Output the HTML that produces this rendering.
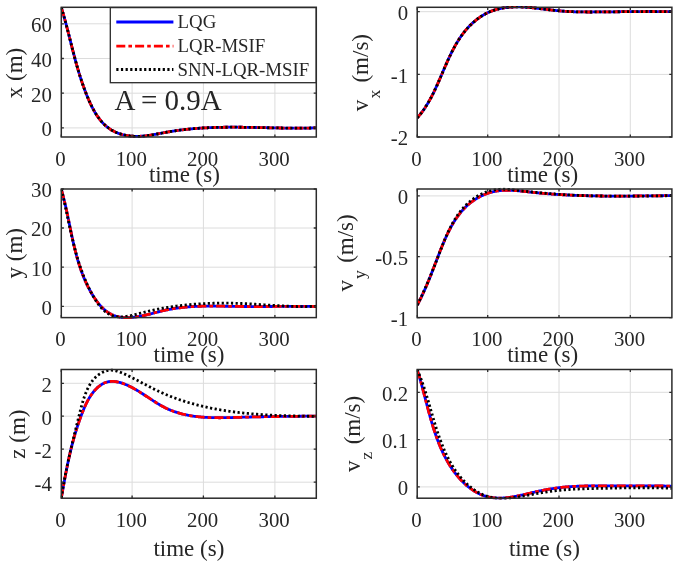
<!DOCTYPE html>
<html><head><meta charset="utf-8"><title>figure</title>
<style>
html,body{margin:0;padding:0;background:#fff;}
body{width:685px;height:564px;overflow:hidden;}
svg{display:block;filter:blur(0.5px);}
text{font-family:"Liberation Serif",serif;fill:#262626;}
</style></head><body>
<svg width="685" height="564" viewBox="0 0 685 564">
<rect x="0" y="0" width="685" height="564" fill="#fff"/>
<clipPath id="cp00"><rect x="61.10" y="5.90" width="255.40" height="132.50"/></clipPath>
<path d="M132.10,7.30V137.00 M203.40,7.30V137.00 M274.90,7.30V137.00 M61.30,127.90H316.30 M61.30,93.20H316.30 M61.30,58.50H316.30 M61.30,23.80H316.30" stroke="#dcdcdc" stroke-width="1" fill="none"/>
<clipPath id="cp01"><rect x="417.00" y="5.90" width="255.10" height="132.50"/></clipPath>
<path d="M487.70,7.30V137.00 M559.00,7.30V137.00 M630.30,7.30V137.00 M417.20,11.70H671.90 M417.20,74.40H671.90" stroke="#dcdcdc" stroke-width="1" fill="none"/>
<clipPath id="cp10"><rect x="61.10" y="187.60" width="255.40" height="131.40"/></clipPath>
<path d="M132.10,189.00V317.60 M203.40,189.00V317.60 M274.90,189.00V317.60 M61.30,306.40H316.30 M61.30,267.20H316.30 M61.30,228.00H316.30" stroke="#dcdcdc" stroke-width="1" fill="none"/>
<clipPath id="cp11"><rect x="417.00" y="187.60" width="255.10" height="131.40"/></clipPath>
<path d="M487.70,189.00V317.60 M559.00,189.00V317.60 M630.30,189.00V317.60 M417.20,195.90H671.90 M417.20,256.70H671.90" stroke="#dcdcdc" stroke-width="1" fill="none"/>
<clipPath id="cp20"><rect x="61.10" y="368.10" width="255.40" height="131.50"/></clipPath>
<path d="M132.10,369.50V498.20 M203.40,369.50V498.20 M274.90,369.50V498.20 M61.30,383.30H316.30 M61.30,416.20H316.30 M61.30,449.20H316.30 M61.30,482.20H316.30" stroke="#dcdcdc" stroke-width="1" fill="none"/>
<clipPath id="cp21"><rect x="417.00" y="368.10" width="255.10" height="131.50"/></clipPath>
<path d="M487.70,369.50V498.20 M559.00,369.50V498.20 M630.30,369.50V498.20 M417.20,392.30H671.90 M417.20,439.60H671.90 M417.20,486.90H671.90" stroke="#dcdcdc" stroke-width="1" fill="none"/>
<g clip-path="url(#cp00)" fill="none" stroke-width="2.80">
<path d="M61.29,7.40L61.55,8.24L61.81,9.07L62.06,9.91L62.31,10.74L62.56,11.58L62.80,12.41L63.05,13.24L63.29,14.08L63.53,14.91L63.76,15.74L64.00,16.57L64.23,17.40L64.46,18.23L64.69,19.06L64.92,19.89L65.15,20.71L65.38,21.54L65.60,22.37L65.82,23.19L66.04,24.02L66.26,24.85L66.48,25.67L66.70,26.50L66.92,27.32L67.13,28.14L67.35,28.97L67.56,29.79L67.77,30.61L67.98,31.44L68.19,32.26L68.40,33.08L68.61,33.90L68.82,34.72L69.03,35.54L69.24,36.37L69.45,37.19L69.65,38.01L69.86,38.83L70.07,39.65L70.27,40.47L70.48,41.28L70.69,42.10L70.89,42.92L71.10,43.74L71.31,44.56L71.51,45.38L71.72,46.20L71.93,47.02L72.14,47.83L72.35,48.65L72.55,49.47L72.76,50.29L72.97,51.11L73.19,51.93L73.40,52.74L73.61,53.56L73.82,54.38L74.04,55.20L74.25,56.01L74.47,56.83L74.68,57.65L74.90,58.47L75.12,59.29L75.34,60.11L75.57,60.92L75.79,61.74L76.02,62.56L76.24,63.38L76.47,64.20L76.70,65.02L76.93,65.84L77.17,66.66L77.40,67.48L77.64,68.30L77.88,69.12L78.12,69.94L78.36,70.76L78.61,71.58L78.85,72.40L79.10,73.22L79.36,74.04L79.61,74.86L79.87,75.69L80.13,76.51L80.39,77.33L80.65,78.15L80.92,78.98L81.19,79.80L81.46,80.63L81.74,81.45L82.02,82.28L82.30,83.10L82.58,83.93L82.87,84.75L83.16,85.58L83.45,86.41L83.75,87.24L84.05,88.07L84.36,88.89L84.66,89.72L84.97,90.55L85.29,91.38L85.61,92.21L85.93,93.05L86.25,93.88L86.58,94.71L86.92,95.54L87.25,96.38L87.59,97.21L87.94,98.04L88.29,98.87L88.65,99.70L89.01,100.52L89.37,101.35L89.74,102.17L90.11,102.99L90.49,103.80L90.88,104.61L91.27,105.42L91.67,106.22L92.07,107.02L92.48,107.82L92.89,108.61L93.31,109.39L93.74,110.17L94.17,110.94L94.61,111.70L95.05,112.46L95.51,113.21L95.96,113.95L96.43,114.69L96.90,115.41L97.38,116.13L97.87,116.84L98.37,117.54L98.87,118.23L99.38,118.91L99.90,119.58L100.43,120.24L100.96,120.89L101.50,121.53L102.05,122.15L102.61,122.77L103.18,123.37L103.76,123.96L104.34,124.54L104.94,125.10L105.54,125.65L106.15,126.18L106.78,126.71L107.41,127.21L108.05,127.70L108.70,128.18L109.36,128.64L110.03,129.09L110.70,129.53L111.39,129.95L112.09,130.35L112.79,130.74L113.50,131.12L114.22,131.48L114.94,131.83L115.67,132.16L116.41,132.48L117.16,132.79L117.92,133.09L118.68,133.37L119.44,133.63L120.21,133.89L120.99,134.13L121.77,134.36L122.56,134.57L123.36,134.77L124.16,134.96L124.96,135.14L125.77,135.31L126.58,135.46L127.40,135.60L128.22,135.73L129.04,135.84L129.87,135.95L130.70,136.04L131.53,136.12L132.37,136.19L133.21,136.24L134.05,136.29L134.89,136.32L135.74,136.35L136.59,136.36L137.44,136.36L138.29,136.35L139.14,136.33L139.99,136.30L140.84,136.25L141.70,136.20L142.55,136.14L143.41,136.07L144.26,135.99L145.12,135.90L145.97,135.80L146.83,135.69L147.68,135.58L148.54,135.46L149.40,135.34L150.26,135.21L151.11,135.07L151.97,134.93L152.83,134.78L153.69,134.63L154.55,134.48L155.41,134.32L156.27,134.16L157.12,134.00L157.98,133.83L158.84,133.67L159.70,133.50L160.56,133.34L161.42,133.17L162.28,133.00L163.14,132.84L164.00,132.68L164.86,132.51L165.72,132.36L166.58,132.20L167.43,132.05L168.29,131.89L169.15,131.75L170.01,131.60L170.87,131.46L171.73,131.32L172.58,131.19L173.44,131.05L174.30,130.92L175.16,130.79L176.01,130.67L176.87,130.55L177.73,130.43L178.58,130.31L179.44,130.20L180.30,130.09L181.15,129.98L182.01,129.87L182.86,129.77L183.72,129.66L184.58,129.57L185.43,129.47L186.29,129.38L187.14,129.28L188.00,129.20L188.85,129.11L189.71,129.02L190.56,128.94L191.42,128.86L192.27,128.79L193.13,128.71L193.98,128.64L194.84,128.57L195.69,128.50L196.55,128.43L197.40,128.37L198.26,128.30L199.11,128.24L199.96,128.19L200.82,128.13L201.67,128.07L202.53,128.02L203.38,127.97L204.23,127.92L205.09,127.88L205.94,127.83L206.79,127.79L207.65,127.75L208.50,127.71L209.35,127.67L210.21,127.63L211.06,127.60L211.91,127.57L212.77,127.54L213.62,127.51L214.47,127.48L215.33,127.45L216.18,127.43L217.03,127.40L217.89,127.38L218.74,127.36L219.59,127.34L220.44,127.32L221.30,127.31L222.15,127.29L223.00,127.28L223.86,127.27L224.71,127.26L225.56,127.25L226.41,127.24L227.27,127.23L228.12,127.22L228.97,127.22L229.82,127.22L230.68,127.21L231.53,127.21L232.38,127.21L233.24,127.21L234.09,127.21L234.94,127.21L235.79,127.22L236.65,127.22L237.50,127.22L238.35,127.23L239.20,127.24L240.06,127.24L240.91,127.25L241.76,127.26L242.62,127.27L243.47,127.28L244.32,127.29L245.18,127.30L246.03,127.31L246.88,127.33L247.73,127.34L248.59,127.35L249.44,127.37L250.29,127.38L251.15,127.40L252.00,127.41L252.85,127.43L253.71,127.44L254.56,127.46L255.42,127.48L256.27,127.50L257.12,127.51L257.98,127.53L258.83,127.55L259.68,127.57L260.54,127.59L261.39,127.60L262.25,127.62L263.10,127.64L263.96,127.66L264.81,127.68L265.66,127.70L266.52,127.72L267.37,127.73L268.23,127.75L269.08,127.77L269.94,127.79L270.79,127.81L271.65,127.83L272.50,127.84L273.36,127.86L274.22,127.88L275.07,127.90L275.93,127.91L276.78,127.93L277.64,127.94L278.50,127.96L279.35,127.98L280.21,127.99L281.06,128.00L281.92,128.02L282.78,128.03L283.63,128.04L284.49,128.06L285.35,128.07L286.21,128.08L287.06,128.09L287.92,128.10L288.78,128.11L289.64,128.12L290.50,128.12L291.35,128.13L292.21,128.14L293.07,128.14L293.93,128.14L294.79,128.15L295.65,128.15L296.51,128.15L297.37,128.15L298.23,128.15L299.09,128.15L299.95,128.15L300.81,128.14L301.67,128.14L302.53,128.13L303.39,128.13L304.25,128.12L305.11,128.11L305.97,128.10L306.83,128.08L307.69,128.07L308.55,128.06L309.42,128.04L310.28,128.02L311.14,128.01L312.00,127.99L312.87,127.96L313.73,127.94L314.59,127.92L315.46,127.89L316.32,127.86" stroke="#0000ff"/>
<path d="M61.29,7.40L61.55,8.24L61.81,9.07L62.06,9.91L62.31,10.74L62.56,11.58L62.80,12.41L63.05,13.24L63.29,14.08L63.53,14.91L63.76,15.74L64.00,16.57L64.23,17.40L64.46,18.23L64.69,19.06L64.92,19.89L65.15,20.71L65.38,21.54L65.60,22.37L65.82,23.19L66.04,24.02L66.26,24.85L66.48,25.67L66.70,26.50L66.92,27.32L67.13,28.14L67.35,28.97L67.56,29.79L67.77,30.61L67.98,31.44L68.19,32.26L68.40,33.08L68.61,33.90L68.82,34.72L69.03,35.54L69.24,36.37L69.45,37.19L69.65,38.01L69.86,38.83L70.07,39.65L70.27,40.47L70.48,41.28L70.69,42.10L70.89,42.92L71.10,43.74L71.31,44.56L71.51,45.38L71.72,46.20L71.93,47.02L72.14,47.83L72.35,48.65L72.55,49.47L72.76,50.29L72.97,51.11L73.19,51.93L73.40,52.74L73.61,53.56L73.82,54.38L74.04,55.20L74.25,56.01L74.47,56.83L74.68,57.65L74.90,58.47L75.12,59.29L75.34,60.11L75.57,60.92L75.79,61.74L76.02,62.56L76.24,63.38L76.47,64.20L76.70,65.02L76.93,65.84L77.17,66.66L77.40,67.48L77.64,68.30L77.88,69.12L78.12,69.94L78.36,70.76L78.61,71.58L78.85,72.40L79.10,73.22L79.36,74.04L79.61,74.86L79.87,75.69L80.13,76.51L80.39,77.33L80.65,78.15L80.92,78.98L81.19,79.80L81.46,80.63L81.74,81.45L82.02,82.28L82.30,83.10L82.58,83.93L82.87,84.75L83.16,85.58L83.45,86.41L83.75,87.24L84.05,88.07L84.36,88.89L84.66,89.72L84.97,90.55L85.29,91.38L85.61,92.21L85.93,93.05L86.25,93.88L86.58,94.71L86.92,95.54L87.25,96.38L87.59,97.21L87.94,98.04L88.29,98.87L88.65,99.70L89.01,100.52L89.37,101.35L89.74,102.17L90.11,102.99L90.49,103.80L90.88,104.61L91.27,105.42L91.67,106.22L92.07,107.02L92.48,107.82L92.89,108.61L93.31,109.39L93.74,110.17L94.17,110.94L94.61,111.70L95.05,112.46L95.51,113.21L95.96,113.95L96.43,114.69L96.90,115.41L97.38,116.13L97.87,116.84L98.37,117.54L98.87,118.23L99.38,118.91L99.90,119.58L100.43,120.24L100.96,120.89L101.50,121.53L102.05,122.15L102.61,122.77L103.18,123.37L103.76,123.96L104.34,124.54L104.94,125.10L105.54,125.65L106.15,126.18L106.78,126.71L107.41,127.21L108.05,127.70L108.70,128.18L109.36,128.64L110.03,129.09L110.70,129.53L111.39,129.95L112.09,130.35L112.79,130.74L113.50,131.12L114.22,131.48L114.94,131.83L115.67,132.16L116.41,132.48L117.16,132.79L117.92,133.09L118.68,133.37L119.44,133.63L120.21,133.89L120.99,134.13L121.77,134.36L122.56,134.57L123.36,134.77L124.16,134.96L124.96,135.14L125.77,135.31L126.58,135.46L127.40,135.60L128.22,135.73L129.04,135.84L129.87,135.95L130.70,136.04L131.53,136.12L132.37,136.19L133.21,136.24L134.05,136.29L134.89,136.32L135.74,136.35L136.59,136.36L137.44,136.36L138.29,136.35L139.14,136.33L139.99,136.30L140.84,136.25L141.70,136.20L142.55,136.14L143.41,136.07L144.26,135.99L145.12,135.90L145.97,135.80L146.83,135.69L147.68,135.58L148.54,135.46L149.40,135.34L150.26,135.21L151.11,135.07L151.97,134.93L152.83,134.78L153.69,134.63L154.55,134.48L155.41,134.32L156.27,134.16L157.12,134.00L157.98,133.83L158.84,133.67L159.70,133.50L160.56,133.34L161.42,133.17L162.28,133.00L163.14,132.84L164.00,132.68L164.86,132.51L165.72,132.36L166.58,132.20L167.43,132.05L168.29,131.89L169.15,131.75L170.01,131.60L170.87,131.46L171.73,131.32L172.58,131.19L173.44,131.05L174.30,130.92L175.16,130.79L176.01,130.67L176.87,130.55L177.73,130.43L178.58,130.31L179.44,130.20L180.30,130.09L181.15,129.98L182.01,129.87L182.86,129.77L183.72,129.66L184.58,129.57L185.43,129.47L186.29,129.38L187.14,129.28L188.00,129.20L188.85,129.11L189.71,129.02L190.56,128.94L191.42,128.86L192.27,128.79L193.13,128.71L193.98,128.64L194.84,128.57L195.69,128.50L196.55,128.43L197.40,128.37L198.26,128.30L199.11,128.24L199.96,128.19L200.82,128.13L201.67,128.07L202.53,128.02L203.38,127.97L204.23,127.92L205.09,127.88L205.94,127.83L206.79,127.79L207.65,127.75L208.50,127.71L209.35,127.67L210.21,127.63L211.06,127.60L211.91,127.57L212.77,127.54L213.62,127.51L214.47,127.48L215.33,127.45L216.18,127.43L217.03,127.40L217.89,127.38L218.74,127.36L219.59,127.34L220.44,127.32L221.30,127.31L222.15,127.29L223.00,127.28L223.86,127.27L224.71,127.26L225.56,127.25L226.41,127.24L227.27,127.23L228.12,127.22L228.97,127.22L229.82,127.22L230.68,127.21L231.53,127.21L232.38,127.21L233.24,127.21L234.09,127.21L234.94,127.21L235.79,127.22L236.65,127.22L237.50,127.22L238.35,127.23L239.20,127.24L240.06,127.24L240.91,127.25L241.76,127.26L242.62,127.27L243.47,127.28L244.32,127.29L245.18,127.30L246.03,127.31L246.88,127.33L247.73,127.34L248.59,127.35L249.44,127.37L250.29,127.38L251.15,127.40L252.00,127.41L252.85,127.43L253.71,127.44L254.56,127.46L255.42,127.48L256.27,127.50L257.12,127.51L257.98,127.53L258.83,127.55L259.68,127.57L260.54,127.59L261.39,127.60L262.25,127.62L263.10,127.64L263.96,127.66L264.81,127.68L265.66,127.70L266.52,127.72L267.37,127.73L268.23,127.75L269.08,127.77L269.94,127.79L270.79,127.81L271.65,127.83L272.50,127.84L273.36,127.86L274.22,127.88L275.07,127.90L275.93,127.91L276.78,127.93L277.64,127.94L278.50,127.96L279.35,127.98L280.21,127.99L281.06,128.00L281.92,128.02L282.78,128.03L283.63,128.04L284.49,128.06L285.35,128.07L286.21,128.08L287.06,128.09L287.92,128.10L288.78,128.11L289.64,128.12L290.50,128.12L291.35,128.13L292.21,128.14L293.07,128.14L293.93,128.14L294.79,128.15L295.65,128.15L296.51,128.15L297.37,128.15L298.23,128.15L299.09,128.15L299.95,128.15L300.81,128.14L301.67,128.14L302.53,128.13L303.39,128.13L304.25,128.12L305.11,128.11L305.97,128.10L306.83,128.08L307.69,128.07L308.55,128.06L309.42,128.04L310.28,128.02L311.14,128.01L312.00,127.99L312.87,127.96L313.73,127.94L314.59,127.92L315.46,127.89L316.32,127.86" stroke="#ff0000" stroke-dasharray="9 3.1 3.6 3.1"/>
<path d="M61.29,7.40L61.55,8.24L61.81,9.07L62.06,9.91L62.31,10.74L62.56,11.58L62.80,12.41L63.05,13.24L63.29,14.08L63.53,14.91L63.76,15.74L64.00,16.57L64.23,17.40L64.46,18.23L64.69,19.06L64.92,19.89L65.15,20.71L65.38,21.54L65.60,22.37L65.82,23.19L66.04,24.02L66.26,24.85L66.48,25.67L66.70,26.50L66.92,27.32L67.13,28.14L67.35,28.97L67.56,29.79L67.77,30.61L67.98,31.44L68.19,32.26L68.40,33.08L68.61,33.90L68.82,34.72L69.03,35.54L69.24,36.37L69.45,37.19L69.65,38.01L69.86,38.83L70.07,39.65L70.27,40.47L70.48,41.28L70.69,42.10L70.89,42.92L71.10,43.74L71.31,44.56L71.51,45.38L71.72,46.20L71.93,47.02L72.14,47.83L72.35,48.65L72.55,49.47L72.76,50.29L72.97,51.11L73.19,51.93L73.40,52.74L73.61,53.56L73.82,54.38L74.04,55.20L74.25,56.01L74.47,56.83L74.68,57.65L74.90,58.47L75.12,59.29L75.34,60.11L75.57,60.92L75.79,61.74L76.02,62.56L76.24,63.38L76.47,64.20L76.70,65.02L76.93,65.84L77.17,66.66L77.40,67.48L77.64,68.30L77.88,69.12L78.12,69.94L78.36,70.76L78.61,71.58L78.85,72.40L79.10,73.22L79.36,74.04L79.61,74.86L79.87,75.69L80.13,76.51L80.39,77.33L80.65,78.15L80.92,78.98L81.19,79.80L81.46,80.63L81.74,81.45L82.02,82.28L82.30,83.10L82.58,83.93L82.87,84.75L83.16,85.58L83.45,86.41L83.75,87.24L84.05,88.07L84.36,88.89L84.66,89.72L84.97,90.55L85.29,91.38L85.61,92.21L85.93,93.05L86.25,93.88L86.58,94.71L86.92,95.54L87.25,96.38L87.59,97.21L87.94,98.04L88.29,98.87L88.65,99.70L89.01,100.52L89.37,101.35L89.74,102.17L90.11,102.99L90.49,103.80L90.88,104.61L91.27,105.42L91.67,106.22L92.07,107.02L92.48,107.82L92.89,108.61L93.31,109.39L93.74,110.17L94.17,110.94L94.61,111.70L95.05,112.46L95.51,113.21L95.96,113.95L96.43,114.69L96.90,115.41L97.38,116.13L97.87,116.84L98.37,117.54L98.87,118.23L99.38,118.91L99.90,119.58L100.43,120.24L100.96,120.89L101.50,121.53L102.05,122.15L102.61,122.77L103.18,123.37L103.76,123.96L104.34,124.54L104.94,125.10L105.54,125.65L106.15,126.18L106.78,126.71L107.41,127.21L108.05,127.70L108.70,128.18L109.36,128.64L110.03,129.09L110.70,129.53L111.39,129.95L112.09,130.35L112.79,130.74L113.50,131.12L114.22,131.48L114.94,131.83L115.67,132.16L116.41,132.48L117.16,132.79L117.92,133.09L118.68,133.37L119.44,133.63L120.21,133.89L120.99,134.13L121.77,134.36L122.56,134.57L123.36,134.77L124.16,134.96L124.96,135.14L125.77,135.31L126.58,135.46L127.40,135.60L128.22,135.73L129.04,135.84L129.87,135.95L130.70,136.04L131.53,136.12L132.37,136.19L133.21,136.24L134.05,136.29L134.89,136.32L135.74,136.35L136.59,136.36L137.44,136.36L138.29,136.35L139.14,136.33L139.99,136.30L140.84,136.25L141.70,136.20L142.55,136.14L143.41,136.07L144.26,135.99L145.12,135.90L145.97,135.80L146.83,135.69L147.68,135.58L148.54,135.46L149.40,135.34L150.26,135.21L151.11,135.07L151.97,134.93L152.83,134.78L153.69,134.63L154.55,134.48L155.41,134.32L156.27,134.16L157.12,134.00L157.98,133.83L158.84,133.67L159.70,133.50L160.56,133.34L161.42,133.17L162.28,133.00L163.14,132.84L164.00,132.68L164.86,132.51L165.72,132.36L166.58,132.20L167.43,132.05L168.29,131.89L169.15,131.75L170.01,131.60L170.87,131.46L171.73,131.32L172.58,131.19L173.44,131.05L174.30,130.92L175.16,130.79L176.01,130.67L176.87,130.55L177.73,130.43L178.58,130.31L179.44,130.20L180.30,130.09L181.15,129.98L182.01,129.87L182.86,129.77L183.72,129.66L184.58,129.57L185.43,129.47L186.29,129.38L187.14,129.28L188.00,129.20L188.85,129.11L189.71,129.02L190.56,128.94L191.42,128.86L192.27,128.79L193.13,128.71L193.98,128.64L194.84,128.57L195.69,128.50L196.55,128.43L197.40,128.37L198.26,128.30L199.11,128.24L199.96,128.19L200.82,128.13L201.67,128.07L202.53,128.02L203.38,127.97L204.23,127.92L205.09,127.88L205.94,127.83L206.79,127.79L207.65,127.75L208.50,127.71L209.35,127.67L210.21,127.63L211.06,127.60L211.91,127.57L212.77,127.54L213.62,127.51L214.47,127.48L215.33,127.45L216.18,127.43L217.03,127.40L217.89,127.38L218.74,127.36L219.59,127.34L220.44,127.32L221.30,127.31L222.15,127.29L223.00,127.28L223.86,127.27L224.71,127.26L225.56,127.25L226.41,127.24L227.27,127.23L228.12,127.22L228.97,127.22L229.82,127.22L230.68,127.21L231.53,127.21L232.38,127.21L233.24,127.21L234.09,127.21L234.94,127.21L235.79,127.22L236.65,127.22L237.50,127.22L238.35,127.23L239.20,127.24L240.06,127.24L240.91,127.25L241.76,127.26L242.62,127.27L243.47,127.28L244.32,127.29L245.18,127.30L246.03,127.31L246.88,127.33L247.73,127.34L248.59,127.35L249.44,127.37L250.29,127.38L251.15,127.40L252.00,127.41L252.85,127.43L253.71,127.44L254.56,127.46L255.42,127.48L256.27,127.50L257.12,127.51L257.98,127.53L258.83,127.55L259.68,127.57L260.54,127.59L261.39,127.60L262.25,127.62L263.10,127.64L263.96,127.66L264.81,127.68L265.66,127.70L266.52,127.72L267.37,127.73L268.23,127.75L269.08,127.77L269.94,127.79L270.79,127.81L271.65,127.83L272.50,127.84L273.36,127.86L274.22,127.88L275.07,127.90L275.93,127.91L276.78,127.93L277.64,127.94L278.50,127.96L279.35,127.98L280.21,127.99L281.06,128.00L281.92,128.02L282.78,128.03L283.63,128.04L284.49,128.06L285.35,128.07L286.21,128.08L287.06,128.09L287.92,128.10L288.78,128.11L289.64,128.12L290.50,128.12L291.35,128.13L292.21,128.14L293.07,128.14L293.93,128.14L294.79,128.15L295.65,128.15L296.51,128.15L297.37,128.15L298.23,128.15L299.09,128.15L299.95,128.15L300.81,128.14L301.67,128.14L302.53,128.13L303.39,128.13L304.25,128.12L305.11,128.11L305.97,128.10L306.83,128.08L307.69,128.07L308.55,128.06L309.42,128.04L310.28,128.02L311.14,128.01L312.00,127.99L312.87,127.96L313.73,127.94L314.59,127.92L315.46,127.89L316.32,127.86" stroke="#000000" stroke-dasharray="2.2 2.44"/>
</g>
<g clip-path="url(#cp01)" fill="none" stroke-width="2.80">
<path d="M417.30,117.78L417.81,117.21L418.32,116.64L418.82,116.05L419.31,115.47L419.80,114.87L420.29,114.28L420.76,113.67L421.24,113.07L421.71,112.45L422.17,111.84L422.62,111.22L423.08,110.59L423.52,109.96L423.97,109.33L424.40,108.69L424.84,108.05L425.26,107.40L425.69,106.75L426.11,106.10L426.52,105.44L426.93,104.78L427.34,104.11L427.74,103.45L428.14,102.77L428.54,102.10L428.93,101.42L429.31,100.74L429.70,100.05L430.08,99.36L430.45,98.67L430.83,97.98L431.20,97.28L431.57,96.58L431.93,95.88L432.29,95.17L432.65,94.47L433.01,93.76L433.36,93.05L433.71,92.33L434.06,91.61L434.41,90.90L434.75,90.18L435.09,89.45L435.43,88.73L435.77,88.00L436.10,87.27L436.44,86.55L436.77,85.81L437.10,85.08L437.43,84.35L437.76,83.61L438.08,82.88L438.41,82.14L438.73,81.40L439.06,80.66L439.38,79.92L439.70,79.18L440.02,78.44L440.34,77.70L440.66,76.95L440.98,76.21L441.30,75.47L441.62,74.72L441.94,73.98L442.26,73.23L442.57,72.49L442.89,71.74L443.21,71.00L443.53,70.25L443.85,69.51L444.17,68.77L444.49,68.02L444.81,67.28L445.13,66.54L445.46,65.79L445.78,65.05L446.11,64.31L446.43,63.57L446.76,62.84L447.09,62.10L447.42,61.36L447.75,60.63L448.08,59.89L448.42,59.16L448.76,58.43L449.09,57.70L449.43,56.97L449.78,56.25L450.12,55.52L450.47,54.80L450.82,54.08L451.17,53.36L451.53,52.65L451.88,51.93L452.24,51.22L452.61,50.51L452.97,49.80L453.34,49.10L453.72,48.40L454.09,47.70L454.47,47.00L454.85,46.31L455.24,45.62L455.63,44.93L456.02,44.24L456.42,43.56L456.82,42.88L457.22,42.21L457.63,41.54L458.04,40.87L458.46,40.20L458.88,39.54L459.31,38.88L459.74,38.23L460.18,37.58L460.62,36.93L461.06,36.29L461.51,35.66L461.97,35.02L462.43,34.39L462.89,33.77L463.36,33.15L463.84,32.53L464.32,31.92L464.81,31.31L465.30,30.71L465.80,30.11L466.30,29.52L466.81,28.94L467.33,28.35L467.85,27.78L468.38,27.21L468.91,26.64L469.45,26.08L469.99,25.53L470.54,24.98L471.10,24.44L471.66,23.90L472.22,23.37L472.79,22.85L473.37,22.33L473.95,21.83L474.54,21.32L475.13,20.83L475.72,20.34L476.33,19.86L476.93,19.38L477.55,18.92L478.16,18.46L478.78,18.01L479.41,17.57L480.04,17.13L480.68,16.70L481.32,16.28L481.97,15.87L482.62,15.47L483.27,15.08L483.93,14.70L484.60,14.32L485.27,13.95L485.94,13.60L486.62,13.25L487.30,12.91L487.99,12.58L488.68,12.26L489.37,11.95L490.07,11.65L490.78,11.36L491.48,11.08L492.20,10.82L492.91,10.56L493.63,10.31L494.36,10.07L495.08,9.84L495.82,9.62L496.55,9.41L497.29,9.21L498.03,9.02L498.78,8.84L499.52,8.67L500.28,8.51L501.03,8.35L501.79,8.21L502.54,8.07L503.31,7.94L504.07,7.82L504.84,7.71L505.61,7.61L506.38,7.51L507.15,7.42L507.92,7.34L508.70,7.27L509.48,7.20L510.26,7.14L511.04,7.09L511.82,7.04L512.60,7.00L513.39,6.97L514.17,6.94L514.96,6.92L515.75,6.91L516.53,6.90L517.32,6.90L518.11,6.91L518.90,6.91L519.69,6.93L520.48,6.95L521.27,6.97L522.07,7.00L522.86,7.04L523.65,7.08L524.45,7.12L525.24,7.17L526.04,7.22L526.83,7.28L527.63,7.33L528.42,7.40L529.22,7.46L530.02,7.53L530.81,7.60L531.61,7.68L532.41,7.76L533.21,7.84L534.00,7.92L534.80,8.01L535.60,8.09L536.40,8.18L537.20,8.27L538.00,8.37L538.80,8.46L539.59,8.55L540.39,8.65L541.19,8.75L541.99,8.85L542.79,8.94L543.59,9.04L544.39,9.14L545.18,9.24L545.98,9.34L546.78,9.44L547.58,9.54L548.38,9.64L549.17,9.74L549.97,9.83L550.77,9.93L551.56,10.02L552.36,10.12L553.15,10.21L553.95,10.30L554.74,10.39L555.54,10.47L556.33,10.56L557.13,10.64L557.92,10.72L558.71,10.79L559.50,10.87L560.29,10.94L561.08,11.01L561.87,11.07L562.66,11.13L563.45,11.19L564.24,11.25L565.03,11.30L565.81,11.36L566.60,11.40L567.39,11.45L568.17,11.49L568.96,11.54L569.74,11.58L570.53,11.61L571.31,11.65L572.09,11.68L572.88,11.71L573.66,11.74L574.44,11.77L575.23,11.79L576.01,11.82L576.79,11.84L577.57,11.86L578.35,11.87L579.13,11.89L579.92,11.91L580.70,11.92L581.48,11.93L582.26,11.94L583.04,11.95L583.82,11.96L584.60,11.96L585.38,11.97L586.16,11.97L586.94,11.98L587.72,11.98L588.50,11.98L589.29,11.98L590.07,11.98L590.85,11.98L591.63,11.98L592.41,11.98L593.19,11.97L593.97,11.97L594.75,11.96L595.54,11.96L596.32,11.96L597.10,11.95L597.88,11.94L598.67,11.94L599.45,11.93L600.23,11.93L601.02,11.92L601.80,11.91L602.58,11.91L603.37,11.90L604.15,11.89L604.94,11.89L605.72,11.88L606.51,11.87L607.29,11.86L608.08,11.86L608.86,11.85L609.65,11.84L610.43,11.83L611.22,11.82L612.01,11.81L612.79,11.81L613.58,11.80L614.37,11.79L615.15,11.78L615.94,11.77L616.73,11.76L617.52,11.75L618.30,11.75L619.09,11.74L619.88,11.73L620.67,11.72L621.45,11.71L622.24,11.70L623.03,11.69L623.82,11.69L624.61,11.68L625.40,11.67L626.18,11.66L626.97,11.65L627.76,11.65L628.55,11.64L629.34,11.63L630.13,11.62L630.92,11.62L631.71,11.61L632.49,11.60L633.28,11.59L634.07,11.59L634.86,11.58L635.65,11.58L636.44,11.57L637.23,11.56L638.02,11.56L638.81,11.55L639.60,11.55L640.39,11.55L641.18,11.54L641.96,11.54L642.75,11.53L643.54,11.53L644.33,11.53L645.12,11.53L645.91,11.52L646.70,11.52L647.49,11.52L648.28,11.52L649.07,11.52L649.85,11.52L650.64,11.52L651.43,11.52L652.22,11.52L653.01,11.52L653.80,11.52L654.59,11.53L655.37,11.53L656.16,11.53L656.95,11.54L657.74,11.54L658.53,11.55L659.31,11.55L660.10,11.56L660.89,11.56L661.68,11.57L662.46,11.58L663.25,11.59L664.04,11.60L664.83,11.61L665.61,11.62L666.40,11.63L667.19,11.64L667.97,11.65L668.76,11.66L669.54,11.68L670.33,11.69L671.12,11.71L671.90,11.72" stroke="#0000ff"/>
<path d="M417.30,117.78L417.81,117.21L418.32,116.64L418.82,116.05L419.31,115.47L419.80,114.87L420.29,114.28L420.76,113.67L421.24,113.07L421.71,112.45L422.17,111.84L422.62,111.22L423.08,110.59L423.52,109.96L423.97,109.33L424.40,108.69L424.84,108.05L425.26,107.40L425.69,106.75L426.11,106.10L426.52,105.44L426.93,104.78L427.34,104.11L427.74,103.45L428.14,102.77L428.54,102.10L428.93,101.42L429.31,100.74L429.70,100.05L430.08,99.36L430.45,98.67L430.83,97.98L431.20,97.28L431.57,96.58L431.93,95.88L432.29,95.17L432.65,94.47L433.01,93.76L433.36,93.05L433.71,92.33L434.06,91.61L434.41,90.90L434.75,90.18L435.09,89.45L435.43,88.73L435.77,88.00L436.10,87.27L436.44,86.55L436.77,85.81L437.10,85.08L437.43,84.35L437.76,83.61L438.08,82.88L438.41,82.14L438.73,81.40L439.06,80.66L439.38,79.92L439.70,79.18L440.02,78.44L440.34,77.70L440.66,76.95L440.98,76.21L441.30,75.47L441.62,74.72L441.94,73.98L442.26,73.23L442.57,72.49L442.89,71.74L443.21,71.00L443.53,70.25L443.85,69.51L444.17,68.77L444.49,68.02L444.81,67.28L445.13,66.54L445.46,65.79L445.78,65.05L446.11,64.31L446.43,63.57L446.76,62.84L447.09,62.10L447.42,61.36L447.75,60.63L448.08,59.89L448.42,59.16L448.76,58.43L449.09,57.70L449.43,56.97L449.78,56.25L450.12,55.52L450.47,54.80L450.82,54.08L451.17,53.36L451.53,52.65L451.88,51.93L452.24,51.22L452.61,50.51L452.97,49.80L453.34,49.10L453.72,48.40L454.09,47.70L454.47,47.00L454.85,46.31L455.24,45.62L455.63,44.93L456.02,44.24L456.42,43.56L456.82,42.88L457.22,42.21L457.63,41.54L458.04,40.87L458.46,40.20L458.88,39.54L459.31,38.88L459.74,38.23L460.18,37.58L460.62,36.93L461.06,36.29L461.51,35.66L461.97,35.02L462.43,34.39L462.89,33.77L463.36,33.15L463.84,32.53L464.32,31.92L464.81,31.31L465.30,30.71L465.80,30.11L466.30,29.52L466.81,28.94L467.33,28.35L467.85,27.78L468.38,27.21L468.91,26.64L469.45,26.08L469.99,25.53L470.54,24.98L471.10,24.44L471.66,23.90L472.22,23.37L472.79,22.85L473.37,22.33L473.95,21.83L474.54,21.32L475.13,20.83L475.72,20.34L476.33,19.86L476.93,19.38L477.55,18.92L478.16,18.46L478.78,18.01L479.41,17.57L480.04,17.13L480.68,16.70L481.32,16.28L481.97,15.87L482.62,15.47L483.27,15.08L483.93,14.70L484.60,14.32L485.27,13.95L485.94,13.60L486.62,13.25L487.30,12.91L487.99,12.58L488.68,12.26L489.37,11.95L490.07,11.65L490.78,11.36L491.48,11.08L492.20,10.82L492.91,10.56L493.63,10.31L494.36,10.07L495.08,9.84L495.82,9.62L496.55,9.41L497.29,9.21L498.03,9.02L498.78,8.84L499.52,8.67L500.28,8.51L501.03,8.35L501.79,8.21L502.54,8.07L503.31,7.94L504.07,7.82L504.84,7.71L505.61,7.61L506.38,7.51L507.15,7.42L507.92,7.34L508.70,7.27L509.48,7.20L510.26,7.14L511.04,7.09L511.82,7.04L512.60,7.00L513.39,6.97L514.17,6.94L514.96,6.92L515.75,6.91L516.53,6.90L517.32,6.90L518.11,6.91L518.90,6.91L519.69,6.93L520.48,6.95L521.27,6.97L522.07,7.00L522.86,7.04L523.65,7.08L524.45,7.12L525.24,7.17L526.04,7.22L526.83,7.28L527.63,7.33L528.42,7.40L529.22,7.46L530.02,7.53L530.81,7.60L531.61,7.68L532.41,7.76L533.21,7.84L534.00,7.92L534.80,8.01L535.60,8.09L536.40,8.18L537.20,8.27L538.00,8.37L538.80,8.46L539.59,8.55L540.39,8.65L541.19,8.75L541.99,8.85L542.79,8.94L543.59,9.04L544.39,9.14L545.18,9.24L545.98,9.34L546.78,9.44L547.58,9.54L548.38,9.64L549.17,9.74L549.97,9.83L550.77,9.93L551.56,10.02L552.36,10.12L553.15,10.21L553.95,10.30L554.74,10.39L555.54,10.47L556.33,10.56L557.13,10.64L557.92,10.72L558.71,10.79L559.50,10.87L560.29,10.94L561.08,11.01L561.87,11.07L562.66,11.13L563.45,11.19L564.24,11.25L565.03,11.30L565.81,11.36L566.60,11.40L567.39,11.45L568.17,11.49L568.96,11.54L569.74,11.58L570.53,11.61L571.31,11.65L572.09,11.68L572.88,11.71L573.66,11.74L574.44,11.77L575.23,11.79L576.01,11.82L576.79,11.84L577.57,11.86L578.35,11.87L579.13,11.89L579.92,11.91L580.70,11.92L581.48,11.93L582.26,11.94L583.04,11.95L583.82,11.96L584.60,11.96L585.38,11.97L586.16,11.97L586.94,11.98L587.72,11.98L588.50,11.98L589.29,11.98L590.07,11.98L590.85,11.98L591.63,11.98L592.41,11.98L593.19,11.97L593.97,11.97L594.75,11.96L595.54,11.96L596.32,11.96L597.10,11.95L597.88,11.94L598.67,11.94L599.45,11.93L600.23,11.93L601.02,11.92L601.80,11.91L602.58,11.91L603.37,11.90L604.15,11.89L604.94,11.89L605.72,11.88L606.51,11.87L607.29,11.86L608.08,11.86L608.86,11.85L609.65,11.84L610.43,11.83L611.22,11.82L612.01,11.81L612.79,11.81L613.58,11.80L614.37,11.79L615.15,11.78L615.94,11.77L616.73,11.76L617.52,11.75L618.30,11.75L619.09,11.74L619.88,11.73L620.67,11.72L621.45,11.71L622.24,11.70L623.03,11.69L623.82,11.69L624.61,11.68L625.40,11.67L626.18,11.66L626.97,11.65L627.76,11.65L628.55,11.64L629.34,11.63L630.13,11.62L630.92,11.62L631.71,11.61L632.49,11.60L633.28,11.59L634.07,11.59L634.86,11.58L635.65,11.58L636.44,11.57L637.23,11.56L638.02,11.56L638.81,11.55L639.60,11.55L640.39,11.55L641.18,11.54L641.96,11.54L642.75,11.53L643.54,11.53L644.33,11.53L645.12,11.53L645.91,11.52L646.70,11.52L647.49,11.52L648.28,11.52L649.07,11.52L649.85,11.52L650.64,11.52L651.43,11.52L652.22,11.52L653.01,11.52L653.80,11.52L654.59,11.53L655.37,11.53L656.16,11.53L656.95,11.54L657.74,11.54L658.53,11.55L659.31,11.55L660.10,11.56L660.89,11.56L661.68,11.57L662.46,11.58L663.25,11.59L664.04,11.60L664.83,11.61L665.61,11.62L666.40,11.63L667.19,11.64L667.97,11.65L668.76,11.66L669.54,11.68L670.33,11.69L671.12,11.71L671.90,11.72" stroke="#ff0000" stroke-dasharray="9 3.1 3.6 3.1"/>
<path d="M417.30,117.78L417.81,117.21L418.32,116.64L418.82,116.05L419.31,115.47L419.80,114.87L420.29,114.28L420.76,113.67L421.24,113.07L421.71,112.45L422.17,111.84L422.62,111.22L423.08,110.59L423.52,109.96L423.97,109.33L424.40,108.69L424.84,108.05L425.26,107.40L425.69,106.75L426.11,106.10L426.52,105.44L426.93,104.78L427.34,104.11L427.74,103.45L428.14,102.77L428.54,102.10L428.93,101.42L429.31,100.74L429.70,100.05L430.08,99.36L430.45,98.67L430.83,97.98L431.20,97.28L431.57,96.58L431.93,95.88L432.29,95.17L432.65,94.47L433.01,93.76L433.36,93.05L433.71,92.33L434.06,91.61L434.41,90.90L434.75,90.18L435.09,89.45L435.43,88.73L435.77,88.00L436.10,87.27L436.44,86.55L436.77,85.81L437.10,85.08L437.43,84.35L437.76,83.61L438.08,82.88L438.41,82.14L438.73,81.40L439.06,80.66L439.38,79.92L439.70,79.18L440.02,78.44L440.34,77.70L440.66,76.95L440.98,76.21L441.30,75.47L441.62,74.72L441.94,73.98L442.26,73.23L442.57,72.49L442.89,71.74L443.21,71.00L443.53,70.25L443.85,69.51L444.17,68.77L444.49,68.02L444.81,67.28L445.13,66.54L445.46,65.79L445.78,65.05L446.11,64.31L446.43,63.57L446.76,62.84L447.09,62.10L447.42,61.36L447.75,60.63L448.08,59.89L448.42,59.16L448.76,58.43L449.09,57.70L449.43,56.97L449.78,56.25L450.12,55.52L450.47,54.80L450.82,54.08L451.17,53.36L451.53,52.65L451.88,51.93L452.24,51.22L452.61,50.51L452.97,49.80L453.34,49.10L453.72,48.40L454.09,47.70L454.47,47.00L454.85,46.31L455.24,45.62L455.63,44.93L456.02,44.24L456.42,43.56L456.82,42.88L457.22,42.21L457.63,41.54L458.04,40.87L458.46,40.20L458.88,39.54L459.31,38.88L459.74,38.23L460.18,37.58L460.62,36.93L461.06,36.29L461.51,35.66L461.97,35.02L462.43,34.39L462.89,33.77L463.36,33.15L463.84,32.53L464.32,31.92L464.81,31.31L465.30,30.71L465.80,30.11L466.30,29.52L466.81,28.94L467.33,28.35L467.85,27.78L468.38,27.21L468.91,26.64L469.45,26.08L469.99,25.53L470.54,24.98L471.10,24.44L471.66,23.90L472.22,23.37L472.79,22.85L473.37,22.33L473.95,21.83L474.54,21.32L475.13,20.83L475.72,20.34L476.33,19.86L476.93,19.38L477.55,18.92L478.16,18.46L478.78,18.01L479.41,17.57L480.04,17.13L480.68,16.70L481.32,16.28L481.97,15.87L482.62,15.47L483.27,15.08L483.93,14.70L484.60,14.32L485.27,13.95L485.94,13.60L486.62,13.25L487.30,12.91L487.99,12.58L488.68,12.26L489.37,11.95L490.07,11.65L490.78,11.36L491.48,11.08L492.20,10.82L492.91,10.56L493.63,10.31L494.36,10.07L495.08,9.84L495.82,9.62L496.55,9.41L497.29,9.21L498.03,9.02L498.78,8.84L499.52,8.67L500.28,8.51L501.03,8.35L501.79,8.21L502.54,8.07L503.31,7.94L504.07,7.82L504.84,7.71L505.61,7.61L506.38,7.51L507.15,7.42L507.92,7.34L508.70,7.27L509.48,7.20L510.26,7.14L511.04,7.09L511.82,7.04L512.60,7.00L513.39,6.97L514.17,6.94L514.96,6.92L515.75,6.91L516.53,6.90L517.32,6.90L518.11,6.91L518.90,6.91L519.69,6.93L520.48,6.95L521.27,6.97L522.07,7.00L522.86,7.04L523.65,7.08L524.45,7.12L525.24,7.17L526.04,7.22L526.83,7.28L527.63,7.33L528.42,7.40L529.22,7.46L530.02,7.53L530.81,7.60L531.61,7.68L532.41,7.76L533.21,7.84L534.00,7.92L534.80,8.01L535.60,8.09L536.40,8.18L537.20,8.27L538.00,8.37L538.80,8.46L539.59,8.55L540.39,8.65L541.19,8.75L541.99,8.85L542.79,8.94L543.59,9.04L544.39,9.14L545.18,9.24L545.98,9.34L546.78,9.44L547.58,9.54L548.38,9.64L549.17,9.74L549.97,9.83L550.77,9.93L551.56,10.02L552.36,10.12L553.15,10.21L553.95,10.30L554.74,10.39L555.54,10.47L556.33,10.56L557.13,10.64L557.92,10.72L558.71,10.79L559.50,10.87L560.29,10.94L561.08,11.01L561.87,11.07L562.66,11.13L563.45,11.19L564.24,11.25L565.03,11.30L565.81,11.36L566.60,11.40L567.39,11.45L568.17,11.49L568.96,11.54L569.74,11.58L570.53,11.61L571.31,11.65L572.09,11.68L572.88,11.71L573.66,11.74L574.44,11.77L575.23,11.79L576.01,11.82L576.79,11.84L577.57,11.86L578.35,11.87L579.13,11.89L579.92,11.91L580.70,11.92L581.48,11.93L582.26,11.94L583.04,11.95L583.82,11.96L584.60,11.96L585.38,11.97L586.16,11.97L586.94,11.98L587.72,11.98L588.50,11.98L589.29,11.98L590.07,11.98L590.85,11.98L591.63,11.98L592.41,11.98L593.19,11.97L593.97,11.97L594.75,11.96L595.54,11.96L596.32,11.96L597.10,11.95L597.88,11.94L598.67,11.94L599.45,11.93L600.23,11.93L601.02,11.92L601.80,11.91L602.58,11.91L603.37,11.90L604.15,11.89L604.94,11.89L605.72,11.88L606.51,11.87L607.29,11.86L608.08,11.86L608.86,11.85L609.65,11.84L610.43,11.83L611.22,11.82L612.01,11.81L612.79,11.81L613.58,11.80L614.37,11.79L615.15,11.78L615.94,11.77L616.73,11.76L617.52,11.75L618.30,11.75L619.09,11.74L619.88,11.73L620.67,11.72L621.45,11.71L622.24,11.70L623.03,11.69L623.82,11.69L624.61,11.68L625.40,11.67L626.18,11.66L626.97,11.65L627.76,11.65L628.55,11.64L629.34,11.63L630.13,11.62L630.92,11.62L631.71,11.61L632.49,11.60L633.28,11.59L634.07,11.59L634.86,11.58L635.65,11.58L636.44,11.57L637.23,11.56L638.02,11.56L638.81,11.55L639.60,11.55L640.39,11.55L641.18,11.54L641.96,11.54L642.75,11.53L643.54,11.53L644.33,11.53L645.12,11.53L645.91,11.52L646.70,11.52L647.49,11.52L648.28,11.52L649.07,11.52L649.85,11.52L650.64,11.52L651.43,11.52L652.22,11.52L653.01,11.52L653.80,11.52L654.59,11.53L655.37,11.53L656.16,11.53L656.95,11.54L657.74,11.54L658.53,11.55L659.31,11.55L660.10,11.56L660.89,11.56L661.68,11.57L662.46,11.58L663.25,11.59L664.04,11.60L664.83,11.61L665.61,11.62L666.40,11.63L667.19,11.64L667.97,11.65L668.76,11.66L669.54,11.68L670.33,11.69L671.12,11.71L671.90,11.72" stroke="#000000" stroke-dasharray="2.2 2.44"/>
</g>
<g clip-path="url(#cp10)" fill="none" stroke-width="2.80">
<path d="M61.29,189.31L61.52,190.11L61.76,190.92L61.99,191.73L62.21,192.54L62.43,193.35L62.65,194.16L62.87,194.97L63.09,195.79L63.30,196.61L63.51,197.43L63.72,198.25L63.93,199.07L64.13,199.90L64.33,200.73L64.53,201.55L64.73,202.38L64.93,203.22L65.12,204.05L65.31,204.88L65.51,205.72L65.70,206.55L65.88,207.39L66.07,208.23L66.26,209.07L66.44,209.91L66.62,210.75L66.81,211.60L66.99,212.44L67.17,213.29L67.35,214.13L67.52,214.98L67.70,215.83L67.88,216.68L68.05,217.53L68.23,218.38L68.41,219.23L68.58,220.08L68.76,220.93L68.93,221.79L69.11,222.64L69.28,223.50L69.45,224.35L69.63,225.21L69.80,226.06L69.98,226.92L70.15,227.77L70.33,228.63L70.51,229.49L70.68,230.34L70.86,231.20L71.04,232.06L71.22,232.91L71.40,233.77L71.58,234.63L71.76,235.49L71.94,236.34L72.13,237.20L72.31,238.06L72.50,238.91L72.69,239.77L72.88,240.62L73.07,241.48L73.26,242.34L73.45,243.19L73.65,244.04L73.85,244.90L74.05,245.75L74.25,246.60L74.45,247.46L74.66,248.31L74.86,249.16L75.07,250.01L75.29,250.86L75.50,251.71L75.72,252.56L75.94,253.40L76.16,254.25L76.39,255.09L76.61,255.94L76.85,256.78L77.08,257.62L77.32,258.46L77.56,259.30L77.80,260.14L78.05,260.98L78.30,261.82L78.55,262.65L78.81,263.48L79.07,264.32L79.33,265.15L79.60,265.98L79.87,266.80L80.14,267.63L80.42,268.45L80.70,269.28L80.99,270.10L81.28,270.92L81.58,271.73L81.88,272.55L82.18,273.36L82.49,274.18L82.80,274.99L83.12,275.80L83.44,276.60L83.77,277.41L84.10,278.21L84.44,279.01L84.78,279.81L85.12,280.60L85.48,281.40L85.83,282.19L86.19,282.98L86.56,283.76L86.93,284.55L87.31,285.33L87.70,286.11L88.08,286.89L88.48,287.66L88.88,288.43L89.29,289.20L89.70,289.97L90.12,290.73L90.54,291.49L90.97,292.25L91.41,293.01L91.85,293.76L92.30,294.51L92.76,295.26L93.22,296.00L93.69,296.74L94.17,297.47L94.65,298.20L95.14,298.93L95.64,299.64L96.14,300.35L96.65,301.06L97.17,301.75L97.70,302.44L98.23,303.12L98.77,303.78L99.32,304.44L99.88,305.09L100.44,305.73L101.01,306.35L101.59,306.96L102.18,307.56L102.78,308.15L103.38,308.72L103.99,309.28L104.62,309.83L105.25,310.36L105.89,310.87L106.53,311.37L107.19,311.85L107.85,312.31L108.53,312.75L109.21,313.18L109.91,313.59L110.61,313.97L111.32,314.34L112.04,314.69L112.77,315.01L113.51,315.32L114.26,315.60L115.02,315.86L115.79,316.11L116.56,316.33L117.34,316.53L118.13,316.72L118.93,316.89L119.74,317.03L120.55,317.17L121.37,317.28L122.19,317.38L123.02,317.46L123.85,317.52L124.69,317.57L125.53,317.60L126.38,317.62L127.23,317.62L128.09,317.61L128.94,317.59L129.80,317.55L130.67,317.50L131.53,317.44L132.40,317.37L133.27,317.28L134.14,317.18L135.01,317.08L135.88,316.96L136.75,316.83L137.63,316.69L138.50,316.55L139.37,316.39L140.25,316.23L141.12,316.06L142.00,315.88L142.88,315.70L143.75,315.51L144.63,315.31L145.50,315.11L146.38,314.91L147.26,314.70L148.13,314.48L149.01,314.27L149.88,314.05L150.76,313.83L151.63,313.60L152.51,313.38L153.38,313.15L154.25,312.93L155.13,312.70L156.00,312.48L156.87,312.25L157.74,312.03L158.61,311.81L159.48,311.59L160.35,311.38L161.21,311.17L162.08,310.96L162.94,310.76L163.81,310.56L164.67,310.36L165.53,310.18L166.39,309.99L167.24,309.82L168.10,309.64L168.96,309.48L169.81,309.31L170.67,309.16L171.52,309.01L172.37,308.86L173.22,308.72L174.07,308.58L174.92,308.44L175.77,308.32L176.62,308.19L177.47,308.07L178.32,307.96L179.16,307.85L180.01,307.74L180.86,307.64L181.71,307.54L182.55,307.44L183.40,307.35L184.25,307.27L185.09,307.18L185.94,307.10L186.79,307.03L187.64,306.96L188.49,306.89L189.33,306.82L190.18,306.76L191.03,306.70L191.88,306.65L192.73,306.60L193.59,306.55L194.44,306.50L195.29,306.46L196.15,306.42L197.00,306.38L197.86,306.35L198.71,306.32L199.57,306.29L200.43,306.26L201.28,306.24L202.14,306.22L203.00,306.20L203.86,306.18L204.72,306.16L205.58,306.15L206.44,306.14L207.30,306.13L208.17,306.12L209.03,306.12L209.89,306.11L210.76,306.11L211.62,306.11L212.48,306.11L213.35,306.11L214.21,306.12L215.08,306.12L215.94,306.13L216.81,306.14L217.68,306.14L218.54,306.15L219.41,306.16L220.27,306.17L221.14,306.18L222.01,306.20L222.88,306.21L223.74,306.22L224.61,306.24L225.48,306.25L226.35,306.26L227.21,306.28L228.08,306.29L228.95,306.31L229.82,306.32L230.68,306.34L231.55,306.35L232.42,306.37L233.29,306.38L234.16,306.39L235.02,306.41L235.89,306.42L236.76,306.43L237.62,306.44L238.49,306.45L239.36,306.46L240.23,306.47L241.09,306.48L241.96,306.49L242.82,306.49L243.69,306.50L244.56,306.51L245.42,306.51L246.29,306.52L247.15,306.52L248.02,306.52L248.89,306.53L249.75,306.53L250.62,306.53L251.48,306.54L252.35,306.54L253.21,306.54L254.08,306.54L254.94,306.54L255.81,306.54L256.67,306.54L257.53,306.54L258.40,306.54L259.26,306.54L260.13,306.53L260.99,306.53L261.86,306.53L262.72,306.53L263.58,306.52L264.45,306.52L265.31,306.52L266.18,306.51L267.04,306.51L267.90,306.51L268.77,306.50L269.63,306.50L270.50,306.50L271.36,306.49L272.22,306.49L273.09,306.48L273.95,306.48L274.81,306.47L275.68,306.47L276.54,306.47L277.40,306.46L278.27,306.46L279.13,306.45L279.99,306.45L280.86,306.44L281.72,306.44L282.58,306.43L283.45,306.43L284.31,306.43L285.18,306.42L286.04,306.42L286.90,306.42L287.77,306.41L288.63,306.41L289.49,306.41L290.36,306.40L291.22,306.40L292.09,306.40L292.95,306.40L293.81,306.40L294.68,306.39L295.54,306.39L296.40,306.39L297.27,306.39L298.13,306.39L299.00,306.39L299.86,306.39L300.73,306.40L301.59,306.40L302.46,306.40L303.32,306.40L304.18,306.41L305.05,306.41L305.91,306.41L306.78,306.42L307.64,306.42L308.51,306.43L309.37,306.44L310.24,306.44L311.11,306.45L311.97,306.46L312.84,306.47L313.70,306.48L314.57,306.49L315.43,306.50L316.30,306.51" stroke="#0000ff"/>
<path d="M61.29,189.31L61.52,190.11L61.76,190.92L61.99,191.73L62.21,192.54L62.43,193.35L62.65,194.16L62.87,194.97L63.09,195.79L63.30,196.61L63.51,197.43L63.72,198.25L63.93,199.07L64.13,199.90L64.33,200.73L64.53,201.55L64.73,202.38L64.93,203.22L65.12,204.05L65.31,204.88L65.51,205.72L65.70,206.55L65.88,207.39L66.07,208.23L66.26,209.07L66.44,209.91L66.62,210.75L66.81,211.60L66.99,212.44L67.17,213.29L67.35,214.13L67.52,214.98L67.70,215.83L67.88,216.68L68.05,217.53L68.23,218.38L68.41,219.23L68.58,220.08L68.76,220.93L68.93,221.79L69.11,222.64L69.28,223.50L69.45,224.35L69.63,225.21L69.80,226.06L69.98,226.92L70.15,227.77L70.33,228.63L70.51,229.49L70.68,230.34L70.86,231.20L71.04,232.06L71.22,232.91L71.40,233.77L71.58,234.63L71.76,235.49L71.94,236.34L72.13,237.20L72.31,238.06L72.50,238.91L72.69,239.77L72.88,240.62L73.07,241.48L73.26,242.34L73.45,243.19L73.65,244.04L73.85,244.90L74.05,245.75L74.25,246.60L74.45,247.46L74.66,248.31L74.86,249.16L75.07,250.01L75.29,250.86L75.50,251.71L75.72,252.56L75.94,253.40L76.16,254.25L76.39,255.09L76.61,255.94L76.85,256.78L77.08,257.62L77.32,258.46L77.56,259.30L77.80,260.14L78.05,260.98L78.30,261.82L78.55,262.65L78.81,263.48L79.07,264.32L79.33,265.15L79.60,265.98L79.87,266.80L80.14,267.63L80.42,268.45L80.70,269.28L80.99,270.10L81.28,270.92L81.58,271.73L81.88,272.55L82.18,273.36L82.49,274.18L82.80,274.99L83.12,275.80L83.44,276.60L83.77,277.41L84.10,278.21L84.44,279.01L84.78,279.81L85.12,280.60L85.48,281.40L85.83,282.19L86.19,282.98L86.56,283.76L86.93,284.55L87.31,285.33L87.70,286.11L88.08,286.89L88.48,287.66L88.88,288.43L89.29,289.20L89.70,289.97L90.12,290.73L90.54,291.49L90.97,292.25L91.41,293.01L91.85,293.76L92.30,294.51L92.76,295.26L93.22,296.00L93.69,296.74L94.17,297.47L94.65,298.20L95.14,298.93L95.64,299.64L96.14,300.35L96.65,301.06L97.17,301.75L97.70,302.44L98.23,303.12L98.77,303.78L99.32,304.44L99.88,305.09L100.44,305.73L101.01,306.35L101.59,306.96L102.18,307.56L102.78,308.15L103.38,308.72L103.99,309.28L104.62,309.83L105.25,310.36L105.89,310.87L106.53,311.37L107.19,311.85L107.85,312.31L108.53,312.75L109.21,313.18L109.91,313.59L110.61,313.97L111.32,314.34L112.04,314.69L112.77,315.01L113.51,315.32L114.26,315.60L115.02,315.86L115.79,316.11L116.56,316.33L117.34,316.53L118.13,316.72L118.93,316.89L119.74,317.03L120.55,317.17L121.37,317.28L122.19,317.38L123.02,317.46L123.85,317.52L124.69,317.57L125.53,317.60L126.38,317.62L127.23,317.62L128.09,317.61L128.94,317.59L129.80,317.55L130.67,317.50L131.53,317.44L132.40,317.37L133.27,317.28L134.14,317.18L135.01,317.08L135.88,316.96L136.75,316.83L137.63,316.69L138.50,316.55L139.37,316.39L140.25,316.23L141.12,316.06L142.00,315.88L142.88,315.70L143.75,315.51L144.63,315.31L145.50,315.11L146.38,314.91L147.26,314.70L148.13,314.48L149.01,314.27L149.88,314.05L150.76,313.83L151.63,313.60L152.51,313.38L153.38,313.15L154.25,312.93L155.13,312.70L156.00,312.48L156.87,312.25L157.74,312.03L158.61,311.81L159.48,311.59L160.35,311.38L161.21,311.17L162.08,310.96L162.94,310.76L163.81,310.56L164.67,310.36L165.53,310.18L166.39,309.99L167.24,309.82L168.10,309.64L168.96,309.48L169.81,309.31L170.67,309.16L171.52,309.01L172.37,308.86L173.22,308.72L174.07,308.58L174.92,308.44L175.77,308.32L176.62,308.19L177.47,308.07L178.32,307.96L179.16,307.85L180.01,307.74L180.86,307.64L181.71,307.54L182.55,307.44L183.40,307.35L184.25,307.27L185.09,307.18L185.94,307.10L186.79,307.03L187.64,306.96L188.49,306.89L189.33,306.82L190.18,306.76L191.03,306.70L191.88,306.65L192.73,306.60L193.59,306.55L194.44,306.50L195.29,306.46L196.15,306.42L197.00,306.38L197.86,306.35L198.71,306.32L199.57,306.29L200.43,306.26L201.28,306.24L202.14,306.22L203.00,306.20L203.86,306.18L204.72,306.16L205.58,306.15L206.44,306.14L207.30,306.13L208.17,306.12L209.03,306.12L209.89,306.11L210.76,306.11L211.62,306.11L212.48,306.11L213.35,306.11L214.21,306.12L215.08,306.12L215.94,306.13L216.81,306.14L217.68,306.14L218.54,306.15L219.41,306.16L220.27,306.17L221.14,306.18L222.01,306.20L222.88,306.21L223.74,306.22L224.61,306.24L225.48,306.25L226.35,306.26L227.21,306.28L228.08,306.29L228.95,306.31L229.82,306.32L230.68,306.34L231.55,306.35L232.42,306.37L233.29,306.38L234.16,306.39L235.02,306.41L235.89,306.42L236.76,306.43L237.62,306.44L238.49,306.45L239.36,306.46L240.23,306.47L241.09,306.48L241.96,306.49L242.82,306.49L243.69,306.50L244.56,306.51L245.42,306.51L246.29,306.52L247.15,306.52L248.02,306.52L248.89,306.53L249.75,306.53L250.62,306.53L251.48,306.54L252.35,306.54L253.21,306.54L254.08,306.54L254.94,306.54L255.81,306.54L256.67,306.54L257.53,306.54L258.40,306.54L259.26,306.54L260.13,306.53L260.99,306.53L261.86,306.53L262.72,306.53L263.58,306.52L264.45,306.52L265.31,306.52L266.18,306.51L267.04,306.51L267.90,306.51L268.77,306.50L269.63,306.50L270.50,306.50L271.36,306.49L272.22,306.49L273.09,306.48L273.95,306.48L274.81,306.47L275.68,306.47L276.54,306.47L277.40,306.46L278.27,306.46L279.13,306.45L279.99,306.45L280.86,306.44L281.72,306.44L282.58,306.43L283.45,306.43L284.31,306.43L285.18,306.42L286.04,306.42L286.90,306.42L287.77,306.41L288.63,306.41L289.49,306.41L290.36,306.40L291.22,306.40L292.09,306.40L292.95,306.40L293.81,306.40L294.68,306.39L295.54,306.39L296.40,306.39L297.27,306.39L298.13,306.39L299.00,306.39L299.86,306.39L300.73,306.40L301.59,306.40L302.46,306.40L303.32,306.40L304.18,306.41L305.05,306.41L305.91,306.41L306.78,306.42L307.64,306.42L308.51,306.43L309.37,306.44L310.24,306.44L311.11,306.45L311.97,306.46L312.84,306.47L313.70,306.48L314.57,306.49L315.43,306.50L316.30,306.51" stroke="#ff0000" stroke-dasharray="9 3.1 3.6 3.1"/>
<path d="M61.29,189.30L61.51,190.15L61.72,191.01L61.93,191.87L62.14,192.72L62.35,193.58L62.56,194.43L62.76,195.29L62.96,196.14L63.16,197.00L63.36,197.85L63.56,198.70L63.75,199.55L63.95,200.41L64.14,201.26L64.33,202.11L64.52,202.96L64.71,203.81L64.90,204.66L65.09,205.51L65.28,206.36L65.46,207.21L65.65,208.06L65.83,208.91L66.02,209.76L66.20,210.61L66.38,211.46L66.56,212.30L66.74,213.15L66.92,214.00L67.10,214.84L67.28,215.69L67.46,216.53L67.64,217.38L67.82,218.22L68.00,219.07L68.18,219.91L68.36,220.75L68.54,221.60L68.72,222.44L68.90,223.28L69.08,224.12L69.26,224.96L69.45,225.80L69.63,226.64L69.81,227.48L69.99,228.32L70.18,229.16L70.36,230.00L70.55,230.84L70.73,231.68L70.92,232.51L71.11,233.35L71.30,234.19L71.49,235.02L71.68,235.86L71.87,236.69L72.06,237.53L72.26,238.36L72.45,239.19L72.65,240.03L72.85,240.86L73.05,241.69L73.25,242.52L73.46,243.35L73.67,244.19L73.87,245.02L74.08,245.85L74.29,246.68L74.51,247.50L74.72,248.33L74.94,249.16L75.16,249.99L75.38,250.82L75.61,251.64L75.84,252.47L76.07,253.29L76.30,254.12L76.53,254.94L76.77,255.77L77.01,256.59L77.25,257.41L77.50,258.24L77.74,259.06L77.99,259.88L78.25,260.70L78.51,261.52L78.77,262.34L79.03,263.16L79.29,263.98L79.56,264.80L79.84,265.62L80.11,266.43L80.39,267.25L80.68,268.07L80.96,268.88L81.25,269.70L81.55,270.51L81.85,271.33L82.15,272.14L82.45,272.95L82.76,273.76L83.08,274.58L83.39,275.39L83.72,276.20L84.04,277.01L84.37,277.82L84.71,278.63L85.04,279.44L85.39,280.25L85.74,281.05L86.09,281.86L86.44,282.67L86.81,283.47L87.17,284.28L87.54,285.08L87.92,285.89L88.30,286.69L88.68,287.49L89.07,288.29L89.47,289.10L89.87,289.90L90.28,290.70L90.69,291.50L91.10,292.30L91.53,293.10L91.95,293.90L92.39,294.69L92.82,295.49L93.27,296.28L93.72,297.08L94.18,297.86L94.64,298.65L95.11,299.43L95.59,300.20L96.08,300.96L96.58,301.72L97.08,302.47L97.60,303.21L98.12,303.93L98.65,304.65L99.19,305.36L99.75,306.05L100.31,306.73L100.88,307.39L101.47,308.04L102.07,308.67L102.67,309.28L103.29,309.88L103.93,310.46L104.57,311.01L105.22,311.55L105.88,312.06L106.56,312.56L107.24,313.03L107.93,313.47L108.64,313.89L109.35,314.29L110.06,314.66L110.79,315.00L111.53,315.31L112.27,315.59L113.02,315.84L113.78,316.07L114.54,316.26L115.31,316.43L116.09,316.57L116.87,316.68L117.66,316.77L118.45,316.83L119.25,316.88L120.06,316.90L120.87,316.89L121.68,316.87L122.50,316.83L123.33,316.77L124.16,316.69L124.99,316.60L125.82,316.49L126.66,316.37L127.51,316.23L128.35,316.08L129.20,315.92L130.06,315.75L130.91,315.56L131.77,315.37L132.63,315.17L133.49,314.97L134.35,314.76L135.21,314.54L136.08,314.32L136.94,314.10L137.81,313.87L138.68,313.64L139.54,313.42L140.41,313.19L141.28,312.96L142.15,312.74L143.01,312.52L143.88,312.30L144.75,312.09L145.61,311.88L146.48,311.67L147.34,311.46L148.21,311.26L149.07,311.06L149.93,310.86L150.80,310.67L151.66,310.48L152.52,310.29L153.38,310.11L154.25,309.92L155.11,309.74L155.97,309.56L156.83,309.39L157.69,309.22L158.55,309.05L159.41,308.88L160.27,308.72L161.13,308.56L161.99,308.40L162.85,308.24L163.71,308.09L164.57,307.94L165.42,307.79L166.28,307.64L167.14,307.50L168.00,307.36L168.86,307.22L169.71,307.09L170.57,306.95L171.43,306.82L172.28,306.70L173.14,306.57L174.00,306.45L174.85,306.33L175.71,306.21L176.56,306.10L177.42,305.98L178.28,305.87L179.13,305.76L179.99,305.66L180.84,305.55L181.70,305.45L182.55,305.35L183.41,305.26L184.26,305.16L185.12,305.07L185.97,304.98L186.82,304.90L187.68,304.81L188.53,304.73L189.39,304.65L190.24,304.57L191.10,304.49L191.95,304.42L192.81,304.35L193.66,304.28L194.51,304.21L195.37,304.15L196.22,304.09L197.08,304.03L197.93,303.97L198.79,303.91L199.64,303.86L200.49,303.80L201.35,303.75L202.20,303.71L203.06,303.66L203.91,303.62L204.77,303.58L205.62,303.54L206.48,303.50L207.33,303.46L208.19,303.43L209.04,303.40L209.90,303.37L210.75,303.34L211.61,303.31L212.46,303.29L213.32,303.27L214.18,303.25L215.03,303.23L215.89,303.21L216.75,303.20L217.60,303.18L218.46,303.17L219.32,303.16L220.17,303.16L221.03,303.15L221.89,303.15L222.75,303.15L223.60,303.14L224.46,303.15L225.32,303.15L226.18,303.15L227.04,303.16L227.90,303.17L228.76,303.18L229.62,303.19L230.48,303.20L231.34,303.22L232.20,303.24L233.06,303.25L233.92,303.27L234.78,303.30L235.64,303.32L236.51,303.34L237.37,303.37L238.23,303.40L239.10,303.43L239.96,303.46L240.82,303.49L241.69,303.52L242.55,303.56L243.42,303.60L244.28,303.63L245.15,303.67L246.02,303.72L246.88,303.76L247.75,303.80L248.62,303.85L249.48,303.89L250.35,303.94L251.22,303.99L252.09,304.04L252.96,304.09L253.83,304.14L254.70,304.20L255.57,304.25L256.44,304.30L257.31,304.36L258.18,304.41L259.05,304.47L259.92,304.53L260.79,304.58L261.67,304.64L262.54,304.70L263.41,304.76L264.28,304.82L265.15,304.87L266.03,304.93L266.90,304.99L267.77,305.05L268.64,305.11L269.51,305.16L270.39,305.22L271.26,305.28L272.13,305.34L273.00,305.39L273.88,305.45L274.75,305.50L275.62,305.56L276.49,305.61L277.37,305.67L278.24,305.72L279.11,305.77L279.98,305.82L280.85,305.87L281.72,305.92L282.60,305.97L283.47,306.01L284.34,306.06L285.21,306.10L286.08,306.14L286.95,306.18L287.82,306.22L288.69,306.26L289.56,306.30L290.43,306.33L291.30,306.36L292.17,306.39L293.03,306.42L293.90,306.45L294.77,306.47L295.64,306.50L296.50,306.52L297.37,306.54L298.23,306.55L299.10,306.56L299.96,306.58L300.83,306.58L301.69,306.59L302.56,306.59L303.42,306.60L304.28,306.59L305.14,306.59L306.00,306.58L306.86,306.57L307.72,306.56L308.58,306.54L309.44,306.52L310.30,306.50L311.16,306.47L312.01,306.44L312.87,306.41L313.73,306.38L314.58,306.34L315.43,306.29L316.29,306.25" stroke="#000000" stroke-dasharray="2.2 2.44"/>
</g>
<g clip-path="url(#cp11)" fill="none" stroke-width="2.80">
<path d="M417.30,304.99L417.68,304.27L418.06,303.55L418.44,302.83L418.81,302.11L419.18,301.39L419.55,300.66L419.91,299.94L420.27,299.22L420.63,298.50L420.98,297.78L421.34,297.05L421.68,296.33L422.03,295.61L422.37,294.89L422.71,294.16L423.04,293.44L423.38,292.72L423.71,291.99L424.04,291.27L424.36,290.54L424.69,289.82L425.01,289.09L425.33,288.37L425.65,287.64L425.96,286.92L426.27,286.19L426.59,285.46L426.90,284.73L427.20,284.00L427.51,283.27L427.81,282.54L428.12,281.81L428.42,281.08L428.72,280.35L429.02,279.62L429.31,278.89L429.61,278.15L429.91,277.42L430.20,276.68L430.49,275.95L430.78,275.21L431.08,274.47L431.37,273.73L431.66,272.99L431.95,272.25L432.24,271.51L432.52,270.77L432.81,270.03L433.10,269.28L433.39,268.54L433.68,267.79L433.96,267.05L434.25,266.30L434.54,265.55L434.83,264.80L435.11,264.05L435.40,263.29L435.69,262.54L435.98,261.78L436.27,261.03L436.56,260.27L436.85,259.51L437.14,258.75L437.43,257.99L437.72,257.23L438.02,256.47L438.31,255.70L438.61,254.93L438.91,254.17L439.21,253.40L439.51,252.63L439.81,251.86L440.11,251.09L440.41,250.31L440.72,249.54L441.03,248.77L441.34,248.00L441.65,247.22L441.96,246.45L442.28,245.68L442.60,244.91L442.92,244.14L443.24,243.37L443.56,242.60L443.89,241.83L444.22,241.06L444.55,240.29L444.89,239.53L445.23,238.76L445.57,238.00L445.91,237.24L446.26,236.48L446.61,235.72L446.96,234.97L447.32,234.21L447.68,233.46L448.04,232.71L448.41,231.97L448.78,231.23L449.16,230.49L449.54,229.75L449.92,229.01L450.30,228.28L450.69,227.56L451.09,226.83L451.49,226.11L451.89,225.40L452.30,224.68L452.71,223.98L453.13,223.27L453.55,222.57L453.98,221.88L454.41,221.19L454.84,220.50L455.28,219.82L455.73,219.14L456.18,218.47L456.64,217.80L457.10,217.14L457.57,216.49L458.04,215.84L458.52,215.20L459.00,214.56L459.49,213.93L459.99,213.30L460.49,212.68L461.00,212.07L461.51,211.46L462.03,210.86L462.55,210.27L463.09,209.68L463.63,209.10L464.17,208.53L464.72,207.96L465.28,207.41L465.84,206.86L466.41,206.31L466.99,205.78L467.57,205.25L468.16,204.73L468.75,204.22L469.35,203.72L469.96,203.22L470.57,202.73L471.18,202.25L471.81,201.78L472.43,201.32L473.07,200.86L473.70,200.42L474.35,199.98L474.99,199.55L475.65,199.13L476.30,198.72L476.97,198.32L477.63,197.92L478.31,197.54L478.98,197.16L479.66,196.79L480.35,196.44L481.04,196.09L481.74,195.75L482.43,195.42L483.14,195.10L483.84,194.79L484.56,194.49L485.27,194.20L485.99,193.92L486.71,193.65L487.44,193.39L488.17,193.14L488.90,192.90L489.64,192.67L490.38,192.46L491.12,192.25L491.87,192.05L492.62,191.86L493.38,191.69L494.13,191.52L494.89,191.37L495.65,191.22L496.42,191.09L497.19,190.97L497.96,190.86L498.73,190.76L499.51,190.67L500.29,190.59L501.07,190.52L501.85,190.46L502.64,190.41L503.42,190.36L504.21,190.33L505.01,190.30L505.80,190.29L506.60,190.28L507.39,190.27L508.19,190.28L508.99,190.29L509.80,190.31L510.60,190.33L511.41,190.36L512.21,190.40L513.02,190.44L513.83,190.49L514.64,190.54L515.45,190.60L516.26,190.66L517.08,190.72L517.89,190.79L518.71,190.86L519.52,190.94L520.34,191.02L521.16,191.10L521.98,191.18L522.79,191.27L523.61,191.35L524.43,191.44L525.25,191.53L526.07,191.62L526.89,191.71L527.71,191.81L528.53,191.90L529.35,191.99L530.17,192.08L530.98,192.17L531.80,192.26L532.62,192.35L533.44,192.43L534.26,192.52L535.07,192.60L535.89,192.69L536.70,192.77L537.52,192.85L538.33,192.93L539.15,193.00L539.96,193.08L540.78,193.16L541.59,193.23L542.41,193.30L543.22,193.37L544.03,193.45L544.84,193.52L545.66,193.58L546.47,193.65L547.28,193.72L548.09,193.78L548.90,193.85L549.71,193.91L550.52,193.97L551.33,194.03L552.14,194.09L552.95,194.15L553.76,194.21L554.57,194.26L555.37,194.32L556.18,194.37L556.99,194.42L557.80,194.48L558.60,194.53L559.41,194.58L560.22,194.63L561.02,194.67L561.83,194.72L562.64,194.77L563.44,194.81L564.25,194.86L565.05,194.90L565.86,194.94L566.66,194.98L567.47,195.02L568.27,195.06L569.08,195.10L569.88,195.14L570.68,195.18L571.49,195.21L572.29,195.25L573.09,195.28L573.90,195.32L574.70,195.35L575.50,195.38L576.30,195.41L577.11,195.44L577.91,195.47L578.71,195.50L579.51,195.53L580.31,195.55L581.12,195.58L581.92,195.60L582.72,195.63L583.52,195.65L584.32,195.68L585.12,195.70L585.92,195.72L586.72,195.74L587.52,195.76L588.32,195.78L589.12,195.80L589.93,195.82L590.73,195.84L591.53,195.85L592.33,195.87L593.13,195.88L593.93,195.90L594.73,195.91L595.53,195.93L596.33,195.94L597.13,195.95L597.92,195.96L598.72,195.97L599.52,195.99L600.32,196.00L601.12,196.01L601.92,196.01L602.72,196.02L603.52,196.03L604.32,196.04L605.12,196.04L605.92,196.05L606.72,196.06L607.52,196.06L608.32,196.07L609.12,196.07L609.92,196.08L610.72,196.08L611.52,196.08L612.32,196.08L613.12,196.09L613.92,196.09L614.72,196.09L615.52,196.09L616.32,196.09L617.12,196.09L617.92,196.09L618.72,196.09L619.52,196.09L620.32,196.09L621.12,196.09L621.92,196.08L622.72,196.08L623.52,196.08L624.32,196.08L625.12,196.07L625.92,196.07L626.73,196.06L627.53,196.06L628.33,196.06L629.13,196.05L629.93,196.05L630.73,196.04L631.54,196.04L632.34,196.03L633.14,196.02L633.94,196.02L634.74,196.01L635.55,196.01L636.35,196.00L637.15,195.99L637.96,195.98L638.76,195.98L639.56,195.97L640.37,195.96L641.17,195.95L641.98,195.95L642.78,195.94L643.59,195.93L644.39,195.92L645.20,195.92L646.00,195.91L646.81,195.90L647.61,195.89L648.42,195.88L649.23,195.87L650.03,195.87L650.84,195.86L651.65,195.85L652.45,195.84L653.26,195.83L654.07,195.82L654.88,195.81L655.69,195.81L656.50,195.80L657.31,195.79L658.12,195.78L658.92,195.77L659.73,195.76L660.55,195.76L661.36,195.75L662.17,195.74L662.98,195.73L663.79,195.72L664.60,195.72L665.41,195.71L666.23,195.70L667.04,195.69L667.85,195.69L668.67,195.68L669.48,195.67L670.30,195.67L671.11,195.66L671.93,195.65" stroke="#0000ff"/>
<path d="M417.30,304.99L417.68,304.27L418.06,303.55L418.44,302.83L418.81,302.11L419.18,301.39L419.55,300.66L419.91,299.94L420.27,299.22L420.63,298.50L420.98,297.78L421.34,297.05L421.68,296.33L422.03,295.61L422.37,294.89L422.71,294.16L423.04,293.44L423.38,292.72L423.71,291.99L424.04,291.27L424.36,290.54L424.69,289.82L425.01,289.09L425.33,288.37L425.65,287.64L425.96,286.92L426.27,286.19L426.59,285.46L426.90,284.73L427.20,284.00L427.51,283.27L427.81,282.54L428.12,281.81L428.42,281.08L428.72,280.35L429.02,279.62L429.31,278.89L429.61,278.15L429.91,277.42L430.20,276.68L430.49,275.95L430.78,275.21L431.08,274.47L431.37,273.73L431.66,272.99L431.95,272.25L432.24,271.51L432.52,270.77L432.81,270.03L433.10,269.28L433.39,268.54L433.68,267.79L433.96,267.05L434.25,266.30L434.54,265.55L434.83,264.80L435.11,264.05L435.40,263.29L435.69,262.54L435.98,261.78L436.27,261.03L436.56,260.27L436.85,259.51L437.14,258.75L437.43,257.99L437.72,257.23L438.02,256.47L438.31,255.70L438.61,254.93L438.91,254.17L439.21,253.40L439.51,252.63L439.81,251.86L440.11,251.09L440.41,250.31L440.72,249.54L441.03,248.77L441.34,248.00L441.65,247.22L441.96,246.45L442.28,245.68L442.60,244.91L442.92,244.14L443.24,243.37L443.56,242.60L443.89,241.83L444.22,241.06L444.55,240.29L444.89,239.53L445.23,238.76L445.57,238.00L445.91,237.24L446.26,236.48L446.61,235.72L446.96,234.97L447.32,234.21L447.68,233.46L448.04,232.71L448.41,231.97L448.78,231.23L449.16,230.49L449.54,229.75L449.92,229.01L450.30,228.28L450.69,227.56L451.09,226.83L451.49,226.11L451.89,225.40L452.30,224.68L452.71,223.98L453.13,223.27L453.55,222.57L453.98,221.88L454.41,221.19L454.84,220.50L455.28,219.82L455.73,219.14L456.18,218.47L456.64,217.80L457.10,217.14L457.57,216.49L458.04,215.84L458.52,215.20L459.00,214.56L459.49,213.93L459.99,213.30L460.49,212.68L461.00,212.07L461.51,211.46L462.03,210.86L462.55,210.27L463.09,209.68L463.63,209.10L464.17,208.53L464.72,207.96L465.28,207.41L465.84,206.86L466.41,206.31L466.99,205.78L467.57,205.25L468.16,204.73L468.75,204.22L469.35,203.72L469.96,203.22L470.57,202.73L471.18,202.25L471.81,201.78L472.43,201.32L473.07,200.86L473.70,200.42L474.35,199.98L474.99,199.55L475.65,199.13L476.30,198.72L476.97,198.32L477.63,197.92L478.31,197.54L478.98,197.16L479.66,196.79L480.35,196.44L481.04,196.09L481.74,195.75L482.43,195.42L483.14,195.10L483.84,194.79L484.56,194.49L485.27,194.20L485.99,193.92L486.71,193.65L487.44,193.39L488.17,193.14L488.90,192.90L489.64,192.67L490.38,192.46L491.12,192.25L491.87,192.05L492.62,191.86L493.38,191.69L494.13,191.52L494.89,191.37L495.65,191.22L496.42,191.09L497.19,190.97L497.96,190.86L498.73,190.76L499.51,190.67L500.29,190.59L501.07,190.52L501.85,190.46L502.64,190.41L503.42,190.36L504.21,190.33L505.01,190.30L505.80,190.29L506.60,190.28L507.39,190.27L508.19,190.28L508.99,190.29L509.80,190.31L510.60,190.33L511.41,190.36L512.21,190.40L513.02,190.44L513.83,190.49L514.64,190.54L515.45,190.60L516.26,190.66L517.08,190.72L517.89,190.79L518.71,190.86L519.52,190.94L520.34,191.02L521.16,191.10L521.98,191.18L522.79,191.27L523.61,191.35L524.43,191.44L525.25,191.53L526.07,191.62L526.89,191.71L527.71,191.81L528.53,191.90L529.35,191.99L530.17,192.08L530.98,192.17L531.80,192.26L532.62,192.35L533.44,192.43L534.26,192.52L535.07,192.60L535.89,192.69L536.70,192.77L537.52,192.85L538.33,192.93L539.15,193.00L539.96,193.08L540.78,193.16L541.59,193.23L542.41,193.30L543.22,193.37L544.03,193.45L544.84,193.52L545.66,193.58L546.47,193.65L547.28,193.72L548.09,193.78L548.90,193.85L549.71,193.91L550.52,193.97L551.33,194.03L552.14,194.09L552.95,194.15L553.76,194.21L554.57,194.26L555.37,194.32L556.18,194.37L556.99,194.42L557.80,194.48L558.60,194.53L559.41,194.58L560.22,194.63L561.02,194.67L561.83,194.72L562.64,194.77L563.44,194.81L564.25,194.86L565.05,194.90L565.86,194.94L566.66,194.98L567.47,195.02L568.27,195.06L569.08,195.10L569.88,195.14L570.68,195.18L571.49,195.21L572.29,195.25L573.09,195.28L573.90,195.32L574.70,195.35L575.50,195.38L576.30,195.41L577.11,195.44L577.91,195.47L578.71,195.50L579.51,195.53L580.31,195.55L581.12,195.58L581.92,195.60L582.72,195.63L583.52,195.65L584.32,195.68L585.12,195.70L585.92,195.72L586.72,195.74L587.52,195.76L588.32,195.78L589.12,195.80L589.93,195.82L590.73,195.84L591.53,195.85L592.33,195.87L593.13,195.88L593.93,195.90L594.73,195.91L595.53,195.93L596.33,195.94L597.13,195.95L597.92,195.96L598.72,195.97L599.52,195.99L600.32,196.00L601.12,196.01L601.92,196.01L602.72,196.02L603.52,196.03L604.32,196.04L605.12,196.04L605.92,196.05L606.72,196.06L607.52,196.06L608.32,196.07L609.12,196.07L609.92,196.08L610.72,196.08L611.52,196.08L612.32,196.08L613.12,196.09L613.92,196.09L614.72,196.09L615.52,196.09L616.32,196.09L617.12,196.09L617.92,196.09L618.72,196.09L619.52,196.09L620.32,196.09L621.12,196.09L621.92,196.08L622.72,196.08L623.52,196.08L624.32,196.08L625.12,196.07L625.92,196.07L626.73,196.06L627.53,196.06L628.33,196.06L629.13,196.05L629.93,196.05L630.73,196.04L631.54,196.04L632.34,196.03L633.14,196.02L633.94,196.02L634.74,196.01L635.55,196.01L636.35,196.00L637.15,195.99L637.96,195.98L638.76,195.98L639.56,195.97L640.37,195.96L641.17,195.95L641.98,195.95L642.78,195.94L643.59,195.93L644.39,195.92L645.20,195.92L646.00,195.91L646.81,195.90L647.61,195.89L648.42,195.88L649.23,195.87L650.03,195.87L650.84,195.86L651.65,195.85L652.45,195.84L653.26,195.83L654.07,195.82L654.88,195.81L655.69,195.81L656.50,195.80L657.31,195.79L658.12,195.78L658.92,195.77L659.73,195.76L660.55,195.76L661.36,195.75L662.17,195.74L662.98,195.73L663.79,195.72L664.60,195.72L665.41,195.71L666.23,195.70L667.04,195.69L667.85,195.69L668.67,195.68L669.48,195.67L670.30,195.67L671.11,195.66L671.93,195.65" stroke="#ff0000" stroke-dasharray="9 3.1 3.6 3.1"/>
<path d="M417.30,305.00L417.68,304.25L418.05,303.49L418.42,302.74L418.79,302.00L419.15,301.25L419.51,300.51L419.87,299.76L420.23,299.02L420.58,298.28L420.94,297.54L421.29,296.80L421.63,296.06L421.98,295.33L422.32,294.59L422.66,293.86L422.99,293.13L423.33,292.40L423.66,291.66L423.99,290.93L424.32,290.20L424.65,289.48L424.97,288.75L425.30,288.02L425.62,287.29L425.94,286.56L426.25,285.84L426.57,285.11L426.89,284.38L427.20,283.66L427.51,282.93L427.82,282.21L428.13,281.48L428.43,280.76L428.74,280.03L429.05,279.30L429.35,278.58L429.65,277.85L429.95,277.12L430.25,276.39L430.55,275.67L430.85,274.94L431.15,274.21L431.45,273.48L431.74,272.75L432.04,272.02L432.33,271.28L432.63,270.55L432.92,269.82L433.21,269.08L433.50,268.35L433.80,267.61L434.09,266.87L434.38,266.13L434.67,265.39L434.96,264.65L435.26,263.90L435.55,263.16L435.84,262.41L436.13,261.66L436.42,260.91L436.71,260.16L437.00,259.41L437.30,258.65L437.59,257.90L437.88,257.14L438.17,256.37L438.47,255.61L438.76,254.85L439.06,254.08L439.35,253.31L439.65,252.54L439.95,251.77L440.25,250.99L440.55,250.22L440.85,249.44L441.15,248.67L441.45,247.89L441.76,247.11L442.07,246.33L442.37,245.56L442.68,244.78L443.00,244.00L443.31,243.22L443.63,242.44L443.95,241.66L444.27,240.88L444.59,240.11L444.91,239.33L445.24,238.56L445.57,237.78L445.91,237.01L446.24,236.24L446.58,235.47L446.92,234.70L447.27,233.93L447.62,233.17L447.97,232.40L448.32,231.64L448.68,230.89L449.04,230.13L449.41,229.38L449.78,228.63L450.15,227.88L450.53,227.14L450.91,226.39L451.30,225.66L451.68,224.92L452.08,224.19L452.48,223.46L452.88,222.74L453.29,222.02L453.70,221.31L454.12,220.60L454.54,219.89L454.96,219.19L455.40,218.49L455.83,217.80L456.27,217.11L456.72,216.43L457.17,215.75L457.63,215.08L458.10,214.42L458.57,213.76L459.04,213.10L459.52,212.46L460.01,211.81L460.50,211.18L461.00,210.55L461.51,209.93L462.02,209.31L462.54,208.70L463.07,208.10L463.60,207.50L464.14,206.92L464.68,206.34L465.24,205.76L465.79,205.20L466.36,204.64L466.93,204.09L467.51,203.55L468.10,203.02L468.69,202.49L469.29,201.97L469.89,201.47L470.50,200.97L471.12,200.47L471.74,199.99L472.37,199.52L473.00,199.05L473.64,198.60L474.29,198.15L474.94,197.72L475.59,197.29L476.25,196.87L476.92,196.47L477.59,196.07L478.27,195.68L478.95,195.30L479.64,194.94L480.33,194.58L481.03,194.23L481.73,193.90L482.43,193.57L483.14,193.26L483.86,192.95L484.57,192.66L485.30,192.38L486.02,192.11L486.75,191.85L487.49,191.61L488.23,191.37L488.97,191.15L489.71,190.94L490.46,190.74L491.22,190.55L491.97,190.37L492.73,190.21L493.49,190.06L494.26,189.92L495.03,189.80L495.80,189.68L496.58,189.58L497.35,189.50L498.13,189.42L498.92,189.36L499.70,189.31L500.49,189.27L501.28,189.25L502.07,189.23L502.87,189.22L503.66,189.22L504.46,189.23L505.26,189.25L506.06,189.28L506.87,189.32L507.67,189.36L508.48,189.41L509.29,189.46L510.10,189.53L510.91,189.59L511.72,189.67L512.53,189.74L513.34,189.83L514.16,189.91L514.97,190.00L515.79,190.09L516.61,190.19L517.42,190.29L518.24,190.38L519.06,190.48L519.87,190.58L520.69,190.69L521.51,190.79L522.33,190.89L523.14,190.99L523.96,191.08L524.78,191.18L525.59,191.28L526.41,191.37L527.23,191.47L528.04,191.56L528.86,191.65L529.67,191.74L530.49,191.83L531.30,191.92L532.12,192.01L532.93,192.09L533.74,192.18L534.56,192.26L535.37,192.34L536.18,192.42L537.00,192.50L537.81,192.58L538.62,192.66L539.43,192.74L540.25,192.82L541.06,192.89L541.87,192.96L542.68,193.04L543.49,193.11L544.30,193.18L545.12,193.25L545.93,193.32L546.74,193.39L547.55,193.45L548.36,193.52L549.17,193.59L549.98,193.65L550.79,193.71L551.60,193.78L552.41,193.84L553.22,193.90L554.02,193.96L554.83,194.01L555.64,194.07L556.45,194.13L557.26,194.18L558.07,194.24L558.88,194.29L559.68,194.34L560.49,194.40L561.30,194.45L562.11,194.50L562.91,194.55L563.72,194.60L564.53,194.64L565.34,194.69L566.14,194.74L566.95,194.78L567.76,194.82L568.56,194.87L569.37,194.91L570.18,194.95L570.98,194.99L571.79,195.03L572.59,195.07L573.40,195.11L574.21,195.15L575.01,195.18L575.82,195.22L576.62,195.25L577.43,195.29L578.23,195.32L579.04,195.36L579.85,195.39L580.65,195.42L581.46,195.45L582.26,195.48L583.07,195.51L583.87,195.54L584.68,195.57L585.48,195.59L586.29,195.62L587.09,195.64L587.90,195.67L588.70,195.69L589.51,195.72L590.31,195.74L591.12,195.76L591.92,195.78L592.72,195.80L593.53,195.82L594.33,195.84L595.14,195.86L595.94,195.88L596.75,195.90L597.55,195.92L598.36,195.93L599.16,195.95L599.97,195.96L600.77,195.98L601.57,195.99L602.38,196.01L603.18,196.02L603.99,196.03L604.79,196.04L605.60,196.05L606.40,196.06L607.21,196.07L608.01,196.08L608.82,196.09L609.62,196.10L610.43,196.11L611.23,196.12L612.04,196.12L612.84,196.13L613.65,196.14L614.45,196.14L615.26,196.15L616.06,196.15L616.87,196.15L617.67,196.16L618.48,196.16L619.28,196.16L620.09,196.16L620.89,196.17L621.70,196.17L622.51,196.17L623.31,196.17L624.12,196.17L624.92,196.17L625.73,196.17L626.54,196.17L627.34,196.16L628.15,196.16L628.95,196.16L629.76,196.16L630.57,196.15L631.37,196.15L632.18,196.15L632.99,196.14L633.80,196.14L634.60,196.13L635.41,196.13L636.22,196.12L637.03,196.11L637.83,196.11L638.64,196.10L639.45,196.09L640.26,196.09L641.07,196.08L641.87,196.07L642.68,196.06L643.49,196.05L644.30,196.05L645.11,196.04L645.92,196.03L646.73,196.02L647.54,196.01L648.35,196.00L649.16,195.99L649.97,195.98L650.78,195.97L651.59,195.95L652.40,195.94L653.21,195.93L654.02,195.92L654.83,195.91L655.64,195.90L656.46,195.89L657.27,195.87L658.08,195.86L658.89,195.85L659.71,195.83L660.52,195.82L661.33,195.81L662.14,195.80L662.96,195.78L663.77,195.77L664.59,195.75L665.40,195.74L666.21,195.73L667.03,195.71L667.84,195.70L668.66,195.69L669.47,195.67L670.29,195.66L671.10,195.64L671.92,195.63" stroke="#000000" stroke-dasharray="2.2 2.44"/>
</g>
<g clip-path="url(#cp20)" fill="none" stroke-width="2.80">
<path d="M61.30,498.00L61.46,497.11L61.62,496.23L61.78,495.34L61.93,494.46L62.09,493.57L62.25,492.69L62.41,491.82L62.57,490.94L62.72,490.07L62.88,489.19L63.04,488.32L63.19,487.45L63.35,486.59L63.51,485.72L63.66,484.86L63.82,483.99L63.98,483.13L64.13,482.27L64.29,481.42L64.45,480.56L64.61,479.71L64.77,478.85L64.93,478.00L65.08,477.15L65.24,476.30L65.41,475.45L65.57,474.61L65.73,473.76L65.89,472.91L66.05,472.07L66.22,471.23L66.38,470.39L66.55,469.55L66.72,468.71L66.88,467.87L67.05,467.03L67.22,466.20L67.39,465.36L67.56,464.53L67.74,463.69L67.91,462.86L68.09,462.03L68.26,461.19L68.44,460.36L68.62,459.53L68.80,458.70L68.98,457.87L69.17,457.04L69.35,456.21L69.54,455.39L69.73,454.56L69.92,453.73L70.11,452.90L70.30,452.08L70.50,451.25L70.70,450.42L70.90,449.60L71.10,448.77L71.30,447.95L71.51,447.12L71.71,446.30L71.92,445.47L72.14,444.64L72.35,443.82L72.57,442.99L72.79,442.17L73.01,441.34L73.23,440.52L73.46,439.69L73.68,438.86L73.91,438.03L74.15,437.21L74.38,436.38L74.62,435.55L74.86,434.72L75.11,433.89L75.35,433.07L75.60,432.24L75.86,431.40L76.11,430.57L76.37,429.74L76.63,428.91L76.90,428.08L77.16,427.24L77.44,426.41L77.71,425.57L77.99,424.74L78.27,423.90L78.55,423.06L78.84,422.22L79.13,421.38L79.42,420.54L79.72,419.70L80.02,418.86L80.32,418.01L80.63,417.17L80.94,416.32L81.26,415.47L81.58,414.62L81.90,413.77L82.23,412.92L82.56,412.07L82.90,411.22L83.24,410.37L83.59,409.53L83.95,408.68L84.31,407.84L84.67,407.00L85.05,406.16L85.43,405.33L85.82,404.50L86.21,403.67L86.62,402.85L87.03,402.04L87.45,401.23L87.88,400.43L88.32,399.63L88.77,398.85L89.23,398.06L89.70,397.29L90.18,396.53L90.67,395.77L91.17,395.03L91.68,394.29L92.20,393.56L92.74,392.85L93.29,392.15L93.85,391.46L94.42,390.78L95.00,390.12L95.59,389.48L96.20,388.85L96.81,388.24L97.43,387.65L98.06,387.08L98.71,386.54L99.36,386.01L100.02,385.51L100.69,385.04L101.37,384.59L102.06,384.16L102.75,383.77L103.46,383.40L104.17,383.06L104.89,382.76L105.61,382.48L106.35,382.24L107.09,382.04L107.83,381.86L108.59,381.71L109.34,381.59L110.11,381.51L110.88,381.45L111.65,381.41L112.43,381.41L113.22,381.43L114.00,381.47L114.80,381.54L115.59,381.64L116.39,381.75L117.19,381.89L117.99,382.05L118.80,382.24L119.61,382.44L120.41,382.66L121.22,382.90L122.04,383.16L122.85,383.43L123.66,383.72L124.47,384.03L125.28,384.35L126.09,384.69L126.90,385.04L127.71,385.40L128.52,385.77L129.33,386.16L130.13,386.55L130.93,386.96L131.73,387.37L132.52,387.79L133.31,388.22L134.10,388.66L134.89,389.10L135.67,389.55L136.44,390.00L137.22,390.46L137.99,390.92L138.75,391.39L139.52,391.86L140.28,392.33L141.04,392.81L141.79,393.29L142.55,393.78L143.30,394.26L144.05,394.75L144.80,395.24L145.54,395.72L146.29,396.21L147.03,396.70L147.78,397.19L148.52,397.68L149.26,398.17L150.00,398.66L150.74,399.15L151.48,399.63L152.22,400.11L152.96,400.59L153.70,401.07L154.44,401.54L155.18,402.01L155.92,402.48L156.67,402.94L157.41,403.40L158.16,403.85L158.90,404.30L159.65,404.74L160.40,405.17L161.15,405.60L161.91,406.02L162.67,406.44L163.42,406.85L164.19,407.25L164.95,407.64L165.72,408.02L166.49,408.39L167.26,408.76L168.04,409.11L168.82,409.46L169.60,409.79L170.39,410.12L171.18,410.44L171.97,410.75L172.77,411.05L173.56,411.35L174.37,411.63L175.17,411.91L175.98,412.18L176.79,412.44L177.60,412.69L178.41,412.94L179.23,413.18L180.05,413.41L180.87,413.63L181.70,413.85L182.52,414.05L183.35,414.25L184.18,414.45L185.02,414.64L185.85,414.82L186.69,414.99L187.53,415.16L188.38,415.32L189.22,415.47L190.07,415.62L190.91,415.76L191.77,415.90L192.62,416.03L193.47,416.15L194.33,416.27L195.18,416.39L196.04,416.49L196.90,416.60L197.76,416.69L198.63,416.78L199.49,416.87L200.36,416.95L201.23,417.03L202.09,417.10L202.96,417.17L203.84,417.23L204.71,417.29L205.58,417.35L206.46,417.40L207.33,417.44L208.21,417.49L209.09,417.53L209.96,417.56L210.84,417.59L211.72,417.62L212.60,417.64L213.48,417.66L214.37,417.68L215.25,417.70L216.13,417.71L217.02,417.72L217.90,417.72L218.78,417.73L219.67,417.73L220.55,417.73L221.44,417.72L222.32,417.72L223.21,417.71L224.09,417.70L224.98,417.69L225.87,417.67L226.75,417.66L227.64,417.64L228.52,417.62L229.41,417.60L230.29,417.58L231.18,417.56L232.06,417.54L232.95,417.51L233.83,417.49L234.71,417.46L235.59,417.44L236.48,417.41L237.36,417.39L238.24,417.36L239.12,417.33L240.00,417.30L240.88,417.28L241.75,417.25L242.63,417.22L243.51,417.20L244.38,417.17L245.26,417.15L246.13,417.12L247.00,417.10L247.87,417.07L248.74,417.05L249.61,417.03L250.48,417.01L251.35,416.99L252.21,416.96L253.08,416.94L253.95,416.92L254.81,416.90L255.68,416.88L256.54,416.87L257.40,416.85L258.26,416.83L259.13,416.81L259.99,416.79L260.85,416.78L261.71,416.76L262.57,416.74L263.43,416.73L264.29,416.71L265.15,416.70L266.01,416.68L266.87,416.67L267.73,416.65L268.58,416.64L269.44,416.63L270.30,416.61L271.16,416.60L272.02,416.59L272.87,416.58L273.73,416.56L274.59,416.55L275.45,416.54L276.30,416.53L277.16,416.52L278.02,416.51L278.88,416.50L279.74,416.48L280.59,416.47L281.45,416.46L282.31,416.45L283.17,416.44L284.03,416.43L284.89,416.42L285.75,416.41L286.61,416.40L287.47,416.39L288.34,416.39L289.20,416.38L290.06,416.37L290.92,416.36L291.79,416.35L292.65,416.34L293.52,416.33L294.38,416.32L295.25,416.31L296.12,416.30L296.98,416.30L297.85,416.29L298.72,416.28L299.59,416.27L300.46,416.26L301.33,416.25L302.21,416.24L303.08,416.23L303.96,416.22L304.83,416.21L305.71,416.21L306.59,416.20L307.47,416.19L308.35,416.18L309.23,416.17L310.11,416.16L310.99,416.15L311.88,416.14L312.77,416.13L313.65,416.12L314.54,416.11L315.43,416.10L316.32,416.08" stroke="#0000ff"/>
<path d="M61.30,498.00L61.46,497.11L61.62,496.23L61.78,495.34L61.93,494.46L62.09,493.57L62.25,492.69L62.41,491.82L62.57,490.94L62.72,490.07L62.88,489.19L63.04,488.32L63.19,487.45L63.35,486.59L63.51,485.72L63.66,484.86L63.82,483.99L63.98,483.13L64.13,482.27L64.29,481.42L64.45,480.56L64.61,479.71L64.77,478.85L64.93,478.00L65.08,477.15L65.24,476.30L65.41,475.45L65.57,474.61L65.73,473.76L65.89,472.91L66.05,472.07L66.22,471.23L66.38,470.39L66.55,469.55L66.72,468.71L66.88,467.87L67.05,467.03L67.22,466.20L67.39,465.36L67.56,464.53L67.74,463.69L67.91,462.86L68.09,462.03L68.26,461.19L68.44,460.36L68.62,459.53L68.80,458.70L68.98,457.87L69.17,457.04L69.35,456.21L69.54,455.39L69.73,454.56L69.92,453.73L70.11,452.90L70.30,452.08L70.50,451.25L70.70,450.42L70.90,449.60L71.10,448.77L71.30,447.95L71.51,447.12L71.71,446.30L71.92,445.47L72.14,444.64L72.35,443.82L72.57,442.99L72.79,442.17L73.01,441.34L73.23,440.52L73.46,439.69L73.68,438.86L73.91,438.03L74.15,437.21L74.38,436.38L74.62,435.55L74.86,434.72L75.11,433.89L75.35,433.07L75.60,432.24L75.86,431.40L76.11,430.57L76.37,429.74L76.63,428.91L76.90,428.08L77.16,427.24L77.44,426.41L77.71,425.57L77.99,424.74L78.27,423.90L78.55,423.06L78.84,422.22L79.13,421.38L79.42,420.54L79.72,419.70L80.02,418.86L80.32,418.01L80.63,417.17L80.94,416.32L81.26,415.47L81.58,414.62L81.90,413.77L82.23,412.92L82.56,412.07L82.90,411.22L83.24,410.37L83.59,409.53L83.95,408.68L84.31,407.84L84.67,407.00L85.05,406.16L85.43,405.33L85.82,404.50L86.21,403.67L86.62,402.85L87.03,402.04L87.45,401.23L87.88,400.43L88.32,399.63L88.77,398.85L89.23,398.06L89.70,397.29L90.18,396.53L90.67,395.77L91.17,395.03L91.68,394.29L92.20,393.56L92.74,392.85L93.29,392.15L93.85,391.46L94.42,390.78L95.00,390.12L95.59,389.48L96.20,388.85L96.81,388.24L97.43,387.65L98.06,387.08L98.71,386.54L99.36,386.01L100.02,385.51L100.69,385.04L101.37,384.59L102.06,384.16L102.75,383.77L103.46,383.40L104.17,383.06L104.89,382.76L105.61,382.48L106.35,382.24L107.09,382.04L107.83,381.86L108.59,381.71L109.34,381.59L110.11,381.51L110.88,381.45L111.65,381.41L112.43,381.41L113.22,381.43L114.00,381.47L114.80,381.54L115.59,381.64L116.39,381.75L117.19,381.89L117.99,382.05L118.80,382.24L119.61,382.44L120.41,382.66L121.22,382.90L122.04,383.16L122.85,383.43L123.66,383.72L124.47,384.03L125.28,384.35L126.09,384.69L126.90,385.04L127.71,385.40L128.52,385.77L129.33,386.16L130.13,386.55L130.93,386.96L131.73,387.37L132.52,387.79L133.31,388.22L134.10,388.66L134.89,389.10L135.67,389.55L136.44,390.00L137.22,390.46L137.99,390.92L138.75,391.39L139.52,391.86L140.28,392.33L141.04,392.81L141.79,393.29L142.55,393.78L143.30,394.26L144.05,394.75L144.80,395.24L145.54,395.72L146.29,396.21L147.03,396.70L147.78,397.19L148.52,397.68L149.26,398.17L150.00,398.66L150.74,399.15L151.48,399.63L152.22,400.11L152.96,400.59L153.70,401.07L154.44,401.54L155.18,402.01L155.92,402.48L156.67,402.94L157.41,403.40L158.16,403.85L158.90,404.30L159.65,404.74L160.40,405.17L161.15,405.60L161.91,406.02L162.67,406.44L163.42,406.85L164.19,407.25L164.95,407.64L165.72,408.02L166.49,408.39L167.26,408.76L168.04,409.11L168.82,409.46L169.60,409.79L170.39,410.12L171.18,410.44L171.97,410.75L172.77,411.05L173.56,411.35L174.37,411.63L175.17,411.91L175.98,412.18L176.79,412.44L177.60,412.69L178.41,412.94L179.23,413.18L180.05,413.41L180.87,413.63L181.70,413.85L182.52,414.05L183.35,414.25L184.18,414.45L185.02,414.64L185.85,414.82L186.69,414.99L187.53,415.16L188.38,415.32L189.22,415.47L190.07,415.62L190.91,415.76L191.77,415.90L192.62,416.03L193.47,416.15L194.33,416.27L195.18,416.39L196.04,416.49L196.90,416.60L197.76,416.69L198.63,416.78L199.49,416.87L200.36,416.95L201.23,417.03L202.09,417.10L202.96,417.17L203.84,417.23L204.71,417.29L205.58,417.35L206.46,417.40L207.33,417.44L208.21,417.49L209.09,417.53L209.96,417.56L210.84,417.59L211.72,417.62L212.60,417.64L213.48,417.66L214.37,417.68L215.25,417.70L216.13,417.71L217.02,417.72L217.90,417.72L218.78,417.73L219.67,417.73L220.55,417.73L221.44,417.72L222.32,417.72L223.21,417.71L224.09,417.70L224.98,417.69L225.87,417.67L226.75,417.66L227.64,417.64L228.52,417.62L229.41,417.60L230.29,417.58L231.18,417.56L232.06,417.54L232.95,417.51L233.83,417.49L234.71,417.46L235.59,417.44L236.48,417.41L237.36,417.39L238.24,417.36L239.12,417.33L240.00,417.30L240.88,417.28L241.75,417.25L242.63,417.22L243.51,417.20L244.38,417.17L245.26,417.15L246.13,417.12L247.00,417.10L247.87,417.07L248.74,417.05L249.61,417.03L250.48,417.01L251.35,416.99L252.21,416.96L253.08,416.94L253.95,416.92L254.81,416.90L255.68,416.88L256.54,416.87L257.40,416.85L258.26,416.83L259.13,416.81L259.99,416.79L260.85,416.78L261.71,416.76L262.57,416.74L263.43,416.73L264.29,416.71L265.15,416.70L266.01,416.68L266.87,416.67L267.73,416.65L268.58,416.64L269.44,416.63L270.30,416.61L271.16,416.60L272.02,416.59L272.87,416.58L273.73,416.56L274.59,416.55L275.45,416.54L276.30,416.53L277.16,416.52L278.02,416.51L278.88,416.50L279.74,416.48L280.59,416.47L281.45,416.46L282.31,416.45L283.17,416.44L284.03,416.43L284.89,416.42L285.75,416.41L286.61,416.40L287.47,416.39L288.34,416.39L289.20,416.38L290.06,416.37L290.92,416.36L291.79,416.35L292.65,416.34L293.52,416.33L294.38,416.32L295.25,416.31L296.12,416.30L296.98,416.30L297.85,416.29L298.72,416.28L299.59,416.27L300.46,416.26L301.33,416.25L302.21,416.24L303.08,416.23L303.96,416.22L304.83,416.21L305.71,416.21L306.59,416.20L307.47,416.19L308.35,416.18L309.23,416.17L310.11,416.16L310.99,416.15L311.88,416.14L312.77,416.13L313.65,416.12L314.54,416.11L315.43,416.10L316.32,416.08" stroke="#ff0000" stroke-dasharray="9 3.1 3.6 3.1"/>
<path d="M61.30,498.01L61.45,497.06L61.60,496.12L61.74,495.18L61.89,494.24L62.05,493.31L62.20,492.38L62.35,491.46L62.50,490.54L62.66,489.62L62.81,488.70L62.97,487.79L63.13,486.89L63.29,485.98L63.44,485.08L63.60,484.18L63.77,483.29L63.93,482.40L64.09,481.51L64.25,480.62L64.42,479.74L64.58,478.86L64.75,477.98L64.92,477.10L65.08,476.23L65.25,475.35L65.42,474.48L65.59,473.62L65.76,472.75L65.94,471.89L66.11,471.03L66.28,470.17L66.46,469.31L66.64,468.45L66.81,467.59L66.99,466.74L67.17,465.89L67.35,465.04L67.53,464.19L67.71,463.34L67.89,462.49L68.07,461.64L68.26,460.80L68.44,459.95L68.63,459.11L68.82,458.26L69.00,457.42L69.19,456.58L69.38,455.73L69.57,454.89L69.76,454.05L69.95,453.21L70.14,452.36L70.34,451.52L70.53,450.68L70.73,449.84L70.92,448.99L71.12,448.15L71.32,447.31L71.52,446.46L71.71,445.62L71.91,444.77L72.12,443.93L72.32,443.08L72.52,442.23L72.72,441.38L72.93,440.53L73.13,439.68L73.34,438.83L73.55,437.98L73.75,437.12L73.96,436.26L74.17,435.41L74.38,434.55L74.59,433.68L74.81,432.82L75.02,431.95L75.23,431.09L75.45,430.22L75.66,429.35L75.88,428.47L76.09,427.60L76.31,426.72L76.53,425.84L76.75,424.95L76.97,424.07L77.19,423.18L77.41,422.29L77.64,421.39L77.86,420.49L78.08,419.59L78.31,418.69L78.54,417.78L78.76,416.87L78.99,415.96L79.22,415.04L79.45,414.12L79.68,413.20L79.91,412.27L80.15,411.35L80.38,410.42L80.62,409.49L80.86,408.56L81.11,407.63L81.36,406.70L81.61,405.77L81.87,404.85L82.13,403.92L82.40,403.00L82.67,402.08L82.94,401.17L83.23,400.25L83.51,399.35L83.81,398.44L84.11,397.55L84.42,396.65L84.73,395.77L85.06,394.89L85.39,394.01L85.73,393.15L86.07,392.29L86.43,391.44L86.80,390.60L87.17,389.77L87.56,388.95L87.95,388.14L88.36,387.34L88.77,386.55L89.20,385.77L89.64,385.01L90.09,384.26L90.55,383.52L91.02,382.79L91.51,382.08L92.01,381.38L92.52,380.70L93.04,380.03L93.58,379.38L94.14,378.74L94.70,378.12L95.29,377.52L95.88,376.93L96.50,376.37L97.12,375.82L97.77,375.29L98.43,374.78L99.11,374.29L99.80,373.82L100.51,373.38L101.24,372.95L101.98,372.55L102.73,372.18L103.50,371.83L104.28,371.51L105.07,371.22L105.86,370.97L106.67,370.75L107.48,370.56L108.30,370.41L109.12,370.30L109.95,370.23L110.78,370.20L111.61,370.21L112.45,370.26L113.28,370.35L114.12,370.47L114.96,370.63L115.80,370.81L116.63,371.02L117.47,371.26L118.32,371.53L119.16,371.81L119.99,372.12L120.83,372.44L121.67,372.78L122.51,373.13L123.35,373.50L124.18,373.87L125.01,374.25L125.84,374.64L126.67,375.03L127.50,375.42L128.32,375.82L129.15,376.22L129.97,376.62L130.79,377.03L131.60,377.44L132.42,377.85L133.23,378.26L134.04,378.68L134.86,379.09L135.67,379.51L136.48,379.93L137.28,380.35L138.09,380.77L138.90,381.20L139.70,381.62L140.51,382.04L141.31,382.47L142.11,382.89L142.92,383.32L143.72,383.74L144.52,384.16L145.32,384.58L146.13,385.01L146.93,385.43L147.73,385.85L148.53,386.26L149.34,386.68L150.14,387.09L150.94,387.51L151.75,387.92L152.55,388.32L153.36,388.73L154.16,389.13L154.97,389.53L155.78,389.93L156.59,390.32L157.40,390.71L158.21,391.09L159.03,391.47L159.84,391.85L160.66,392.23L161.47,392.59L162.29,392.96L163.11,393.32L163.93,393.68L164.76,394.04L165.58,394.39L166.41,394.73L167.23,395.08L168.06,395.41L168.89,395.75L169.72,396.08L170.55,396.41L171.38,396.74L172.22,397.06L173.05,397.37L173.89,397.69L174.73,398.00L175.57,398.30L176.41,398.61L177.25,398.91L178.09,399.20L178.93,399.50L179.78,399.78L180.62,400.07L181.47,400.35L182.32,400.63L183.16,400.91L184.01,401.18L184.86,401.45L185.72,401.71L186.57,401.98L187.42,402.24L188.28,402.49L189.13,402.74L189.99,402.99L190.85,403.24L191.71,403.48L192.57,403.72L193.43,403.96L194.29,404.19L195.15,404.43L196.02,404.65L196.88,404.88L197.75,405.10L198.61,405.32L199.48,405.53L200.35,405.75L201.21,405.96L202.08,406.16L202.95,406.37L203.83,406.57L204.70,406.77L205.57,406.97L206.44,407.16L207.32,407.35L208.19,407.54L209.07,407.72L209.94,407.90L210.82,408.08L211.70,408.26L212.58,408.43L213.46,408.60L214.34,408.77L215.22,408.94L216.10,409.10L216.98,409.27L217.86,409.42L218.75,409.58L219.63,409.73L220.51,409.89L221.40,410.03L222.28,410.18L223.17,410.32L224.06,410.47L224.94,410.61L225.83,410.74L226.72,410.88L227.61,411.01L228.50,411.14L229.39,411.27L230.28,411.39L231.17,411.52L232.06,411.64L232.95,411.76L233.84,411.88L234.73,411.99L235.63,412.10L236.52,412.22L237.41,412.32L238.31,412.43L239.20,412.54L240.10,412.64L240.99,412.74L241.89,412.84L242.78,412.94L243.68,413.03L244.57,413.12L245.47,413.22L246.37,413.31L247.26,413.39L248.16,413.48L249.06,413.56L249.96,413.65L250.86,413.73L251.75,413.81L252.65,413.88L253.55,413.96L254.45,414.03L255.35,414.11L256.25,414.18L257.15,414.25L258.05,414.31L258.95,414.38L259.85,414.44L260.75,414.51L261.65,414.57L262.55,414.63L263.44,414.69L264.35,414.75L265.25,414.80L266.15,414.86L267.05,414.91L267.95,414.96L268.85,415.01L269.75,415.06L270.65,415.11L271.55,415.16L272.45,415.20L273.35,415.25L274.25,415.29L275.15,415.33L276.05,415.37L276.95,415.41L277.84,415.45L278.74,415.49L279.64,415.53L280.54,415.56L281.44,415.60L282.34,415.63L283.24,415.66L284.14,415.69L285.04,415.73L285.93,415.76L286.83,415.78L287.73,415.81L288.63,415.84L289.52,415.87L290.42,415.89L291.32,415.92L292.21,415.94L293.11,415.96L294.01,415.99L294.90,416.01L295.80,416.03L296.69,416.05L297.59,416.07L298.48,416.09L299.37,416.11L300.27,416.13L301.16,416.15L302.05,416.16L302.95,416.18L303.84,416.20L304.73,416.21L305.62,416.23L306.51,416.24L307.40,416.26L308.29,416.27L309.18,416.29L310.07,416.30L310.95,416.31L311.84,416.33L312.73,416.34L313.61,416.35L314.50,416.36L315.39,416.38L316.27,416.39" stroke="#000000" stroke-dasharray="2.2 2.44"/>
</g>
<g clip-path="url(#cp21)" fill="none" stroke-width="2.80">
<path d="M417.19,369.82L417.44,370.57L417.68,371.32L417.92,372.08L418.16,372.83L418.39,373.60L418.63,374.36L418.86,375.13L419.09,375.90L419.32,376.67L419.55,377.45L419.78,378.23L420.00,379.01L420.23,379.80L420.45,380.58L420.67,381.37L420.89,382.16L421.12,382.96L421.34,383.75L421.55,384.55L421.77,385.35L421.99,386.16L422.21,386.96L422.42,387.77L422.64,388.58L422.86,389.39L423.07,390.20L423.29,391.01L423.50,391.83L423.72,392.65L423.93,393.47L424.14,394.29L424.36,395.11L424.57,395.93L424.79,396.76L425.00,397.58L425.22,398.41L425.43,399.24L425.65,400.07L425.86,400.90L426.08,401.73L426.30,402.56L426.51,403.39L426.73,404.23L426.95,405.06L427.17,405.90L427.39,406.73L427.61,407.57L427.83,408.41L428.05,409.24L428.28,410.08L428.50,410.92L428.73,411.76L428.96,412.59L429.19,413.43L429.42,414.27L429.65,415.11L429.88,415.95L430.11,416.78L430.35,417.62L430.59,418.46L430.83,419.30L431.07,420.13L431.31,420.97L431.56,421.81L431.80,422.64L432.05,423.47L432.30,424.31L432.56,425.14L432.81,425.97L433.07,426.81L433.33,427.64L433.59,428.47L433.85,429.29L434.12,430.12L434.39,430.95L434.66,431.77L434.94,432.60L435.22,433.42L435.50,434.24L435.78,435.06L436.07,435.88L436.35,436.69L436.65,437.51L436.94,438.32L437.24,439.13L437.54,439.94L437.85,440.75L438.15,441.55L438.47,442.36L438.78,443.16L439.10,443.96L439.42,444.75L439.75,445.55L440.08,446.34L440.41,447.13L440.74,447.92L441.09,448.70L441.43,449.48L441.78,450.26L442.13,451.04L442.49,451.81L442.85,452.59L443.21,453.35L443.58,454.12L443.96,454.88L444.33,455.64L444.72,456.40L445.10,457.15L445.50,457.90L445.89,458.65L446.29,459.39L446.70,460.13L447.11,460.87L447.52,461.60L447.94,462.33L448.37,463.05L448.80,463.78L449.23,464.49L449.68,465.21L450.12,465.92L450.57,466.62L451.03,467.33L451.49,468.02L451.96,468.72L452.43,469.41L452.91,470.09L453.39,470.77L453.88,471.45L454.38,472.12L454.88,472.79L455.39,473.45L455.90,474.11L456.42,474.77L456.94,475.41L457.48,476.06L458.01,476.70L458.56,477.33L459.11,477.96L459.66,478.59L460.23,479.21L460.80,479.82L461.37,480.43L461.96,481.03L462.54,481.63L463.14,482.22L463.74,482.81L464.35,483.39L464.97,483.96L465.59,484.52L466.21,485.08L466.85,485.63L467.49,486.17L468.13,486.70L468.79,487.23L469.44,487.74L470.11,488.25L470.78,488.75L471.45,489.23L472.13,489.71L472.82,490.18L473.51,490.63L474.21,491.07L474.92,491.50L475.63,491.92L476.34,492.33L477.06,492.73L477.79,493.11L478.52,493.48L479.26,493.83L480.00,494.18L480.75,494.50L481.50,494.82L482.25,495.12L483.02,495.40L483.78,495.67L484.56,495.92L485.33,496.16L486.11,496.39L486.90,496.60L487.69,496.79L488.48,496.97L489.28,497.14L490.08,497.29L490.88,497.43L491.69,497.56L492.50,497.67L493.32,497.77L494.13,497.86L494.95,497.94L495.78,498.00L496.60,498.05L497.43,498.09L498.26,498.11L499.09,498.13L499.92,498.13L500.76,498.12L501.59,498.10L502.43,498.07L503.27,498.02L504.11,497.97L504.95,497.91L505.79,497.83L506.63,497.75L507.48,497.66L508.32,497.56L509.16,497.45L510.01,497.33L510.86,497.20L511.70,497.07L512.55,496.93L513.40,496.78L514.24,496.63L515.09,496.47L515.94,496.31L516.79,496.14L517.64,495.96L518.49,495.79L519.34,495.60L520.18,495.42L521.03,495.23L521.88,495.04L522.73,494.84L523.58,494.64L524.43,494.45L525.28,494.25L526.12,494.04L526.97,493.84L527.82,493.64L528.66,493.44L529.51,493.24L530.35,493.04L531.20,492.84L532.04,492.64L532.88,492.45L533.73,492.26L534.57,492.07L535.41,491.88L536.25,491.69L537.09,491.51L537.93,491.32L538.77,491.15L539.60,490.97L540.44,490.79L541.28,490.62L542.11,490.45L542.95,490.29L543.79,490.12L544.62,489.96L545.46,489.80L546.29,489.65L547.13,489.49L547.96,489.34L548.80,489.20L549.63,489.05L550.47,488.91L551.30,488.78L552.13,488.64L552.97,488.51L553.80,488.39L554.64,488.26L555.47,488.14L556.30,488.03L557.14,487.91L557.97,487.81L558.81,487.70L559.64,487.60L560.48,487.50L561.31,487.41L562.15,487.32L562.99,487.23L563.82,487.15L564.66,487.07L565.50,486.99L566.33,486.92L567.17,486.85L568.01,486.79L568.85,486.72L569.69,486.66L570.52,486.61L571.36,486.55L572.20,486.50L573.04,486.45L573.88,486.41L574.72,486.36L575.56,486.32L576.40,486.28L577.24,486.25L578.08,486.21L578.92,486.18L579.76,486.15L580.60,486.12L581.44,486.10L582.28,486.07L583.13,486.05L583.97,486.03L584.81,486.01L585.65,486.00L586.49,485.98L587.34,485.97L588.18,485.95L589.02,485.94L589.87,485.93L590.71,485.92L591.55,485.91L592.40,485.90L593.24,485.90L594.08,485.89L594.93,485.89L595.77,485.88L596.62,485.88L597.46,485.88L598.30,485.87L599.15,485.87L599.99,485.87L600.84,485.87L601.68,485.86L602.53,485.86L603.38,485.86L604.22,485.86L605.07,485.86L605.91,485.85L606.76,485.85L607.60,485.85L608.45,485.85L609.30,485.85L610.14,485.85L610.99,485.85L611.84,485.84L612.68,485.84L613.53,485.84L614.38,485.84L615.22,485.84L616.07,485.84L616.92,485.84L617.76,485.84L618.61,485.84L619.46,485.84L620.31,485.84L621.15,485.84L622.00,485.84L622.85,485.84L623.69,485.84L624.54,485.84L625.39,485.84L626.24,485.84L627.08,485.84L627.93,485.84L628.78,485.84L629.63,485.85L630.47,485.85L631.32,485.85L632.17,485.85L633.02,485.85L633.86,485.85L634.71,485.86L635.56,485.86L636.40,485.86L637.25,485.86L638.10,485.87L638.95,485.87L639.79,485.87L640.64,485.87L641.49,485.88L642.33,485.88L643.18,485.88L644.03,485.89L644.87,485.89L645.72,485.90L646.57,485.90L647.41,485.90L648.26,485.91L649.10,485.91L649.95,485.92L650.80,485.92L651.64,485.93L652.49,485.93L653.33,485.94L654.18,485.94L655.02,485.95L655.87,485.95L656.71,485.96L657.56,485.97L658.40,485.97L659.25,485.98L660.09,485.99L660.94,485.99L661.78,486.00L662.63,486.01L663.47,486.01L664.31,486.02L665.16,486.03L666.00,486.04L666.84,486.05L667.69,486.05L668.53,486.06L669.37,486.07L670.21,486.08L671.06,486.09L671.90,486.10" stroke="#0000ff"/>
<path d="M417.19,369.82L417.44,370.57L417.68,371.32L417.92,372.08L418.16,372.83L418.39,373.60L418.63,374.36L418.86,375.13L419.09,375.90L419.32,376.67L419.55,377.45L419.78,378.23L420.00,379.01L420.23,379.80L420.45,380.58L420.67,381.37L420.89,382.16L421.12,382.96L421.34,383.75L421.55,384.55L421.77,385.35L421.99,386.16L422.21,386.96L422.42,387.77L422.64,388.58L422.86,389.39L423.07,390.20L423.29,391.01L423.50,391.83L423.72,392.65L423.93,393.47L424.14,394.29L424.36,395.11L424.57,395.93L424.79,396.76L425.00,397.58L425.22,398.41L425.43,399.24L425.65,400.07L425.86,400.90L426.08,401.73L426.30,402.56L426.51,403.39L426.73,404.23L426.95,405.06L427.17,405.90L427.39,406.73L427.61,407.57L427.83,408.41L428.05,409.24L428.28,410.08L428.50,410.92L428.73,411.76L428.96,412.59L429.19,413.43L429.42,414.27L429.65,415.11L429.88,415.95L430.11,416.78L430.35,417.62L430.59,418.46L430.83,419.30L431.07,420.13L431.31,420.97L431.56,421.81L431.80,422.64L432.05,423.47L432.30,424.31L432.56,425.14L432.81,425.97L433.07,426.81L433.33,427.64L433.59,428.47L433.85,429.29L434.12,430.12L434.39,430.95L434.66,431.77L434.94,432.60L435.22,433.42L435.50,434.24L435.78,435.06L436.07,435.88L436.35,436.69L436.65,437.51L436.94,438.32L437.24,439.13L437.54,439.94L437.85,440.75L438.15,441.55L438.47,442.36L438.78,443.16L439.10,443.96L439.42,444.75L439.75,445.55L440.08,446.34L440.41,447.13L440.74,447.92L441.09,448.70L441.43,449.48L441.78,450.26L442.13,451.04L442.49,451.81L442.85,452.59L443.21,453.35L443.58,454.12L443.96,454.88L444.33,455.64L444.72,456.40L445.10,457.15L445.50,457.90L445.89,458.65L446.29,459.39L446.70,460.13L447.11,460.87L447.52,461.60L447.94,462.33L448.37,463.05L448.80,463.78L449.23,464.49L449.68,465.21L450.12,465.92L450.57,466.62L451.03,467.33L451.49,468.02L451.96,468.72L452.43,469.41L452.91,470.09L453.39,470.77L453.88,471.45L454.38,472.12L454.88,472.79L455.39,473.45L455.90,474.11L456.42,474.77L456.94,475.41L457.48,476.06L458.01,476.70L458.56,477.33L459.11,477.96L459.66,478.59L460.23,479.21L460.80,479.82L461.37,480.43L461.96,481.03L462.54,481.63L463.14,482.22L463.74,482.81L464.35,483.39L464.97,483.96L465.59,484.52L466.21,485.08L466.85,485.63L467.49,486.17L468.13,486.70L468.79,487.23L469.44,487.74L470.11,488.25L470.78,488.75L471.45,489.23L472.13,489.71L472.82,490.18L473.51,490.63L474.21,491.07L474.92,491.50L475.63,491.92L476.34,492.33L477.06,492.73L477.79,493.11L478.52,493.48L479.26,493.83L480.00,494.18L480.75,494.50L481.50,494.82L482.25,495.12L483.02,495.40L483.78,495.67L484.56,495.92L485.33,496.16L486.11,496.39L486.90,496.60L487.69,496.79L488.48,496.97L489.28,497.14L490.08,497.29L490.88,497.43L491.69,497.56L492.50,497.67L493.32,497.77L494.13,497.86L494.95,497.94L495.78,498.00L496.60,498.05L497.43,498.09L498.26,498.11L499.09,498.13L499.92,498.13L500.76,498.12L501.59,498.10L502.43,498.07L503.27,498.02L504.11,497.97L504.95,497.91L505.79,497.83L506.63,497.75L507.48,497.66L508.32,497.56L509.16,497.45L510.01,497.33L510.86,497.20L511.70,497.07L512.55,496.93L513.40,496.78L514.24,496.63L515.09,496.47L515.94,496.31L516.79,496.14L517.64,495.96L518.49,495.79L519.34,495.60L520.18,495.42L521.03,495.23L521.88,495.04L522.73,494.84L523.58,494.64L524.43,494.45L525.28,494.25L526.12,494.04L526.97,493.84L527.82,493.64L528.66,493.44L529.51,493.24L530.35,493.04L531.20,492.84L532.04,492.64L532.88,492.45L533.73,492.26L534.57,492.07L535.41,491.88L536.25,491.69L537.09,491.51L537.93,491.32L538.77,491.15L539.60,490.97L540.44,490.79L541.28,490.62L542.11,490.45L542.95,490.29L543.79,490.12L544.62,489.96L545.46,489.80L546.29,489.65L547.13,489.49L547.96,489.34L548.80,489.20L549.63,489.05L550.47,488.91L551.30,488.78L552.13,488.64L552.97,488.51L553.80,488.39L554.64,488.26L555.47,488.14L556.30,488.03L557.14,487.91L557.97,487.81L558.81,487.70L559.64,487.60L560.48,487.50L561.31,487.41L562.15,487.32L562.99,487.23L563.82,487.15L564.66,487.07L565.50,486.99L566.33,486.92L567.17,486.85L568.01,486.79L568.85,486.72L569.69,486.66L570.52,486.61L571.36,486.55L572.20,486.50L573.04,486.45L573.88,486.41L574.72,486.36L575.56,486.32L576.40,486.28L577.24,486.25L578.08,486.21L578.92,486.18L579.76,486.15L580.60,486.12L581.44,486.10L582.28,486.07L583.13,486.05L583.97,486.03L584.81,486.01L585.65,486.00L586.49,485.98L587.34,485.97L588.18,485.95L589.02,485.94L589.87,485.93L590.71,485.92L591.55,485.91L592.40,485.90L593.24,485.90L594.08,485.89L594.93,485.89L595.77,485.88L596.62,485.88L597.46,485.88L598.30,485.87L599.15,485.87L599.99,485.87L600.84,485.87L601.68,485.86L602.53,485.86L603.38,485.86L604.22,485.86L605.07,485.86L605.91,485.85L606.76,485.85L607.60,485.85L608.45,485.85L609.30,485.85L610.14,485.85L610.99,485.85L611.84,485.84L612.68,485.84L613.53,485.84L614.38,485.84L615.22,485.84L616.07,485.84L616.92,485.84L617.76,485.84L618.61,485.84L619.46,485.84L620.31,485.84L621.15,485.84L622.00,485.84L622.85,485.84L623.69,485.84L624.54,485.84L625.39,485.84L626.24,485.84L627.08,485.84L627.93,485.84L628.78,485.84L629.63,485.85L630.47,485.85L631.32,485.85L632.17,485.85L633.02,485.85L633.86,485.85L634.71,485.86L635.56,485.86L636.40,485.86L637.25,485.86L638.10,485.87L638.95,485.87L639.79,485.87L640.64,485.87L641.49,485.88L642.33,485.88L643.18,485.88L644.03,485.89L644.87,485.89L645.72,485.90L646.57,485.90L647.41,485.90L648.26,485.91L649.10,485.91L649.95,485.92L650.80,485.92L651.64,485.93L652.49,485.93L653.33,485.94L654.18,485.94L655.02,485.95L655.87,485.95L656.71,485.96L657.56,485.97L658.40,485.97L659.25,485.98L660.09,485.99L660.94,485.99L661.78,486.00L662.63,486.01L663.47,486.01L664.31,486.02L665.16,486.03L666.00,486.04L666.84,486.05L667.69,486.05L668.53,486.06L669.37,486.07L670.21,486.08L671.06,486.09L671.90,486.10" stroke="#ff0000" stroke-dasharray="9 3.1 3.6 3.1"/>
<path d="M417.20,369.61L417.52,370.33L417.84,371.06L418.16,371.79L418.47,372.52L418.78,373.25L419.08,373.99L419.38,374.73L419.68,375.48L419.98,376.22L420.27,376.97L420.56,377.73L420.85,378.49L421.13,379.25L421.41,380.01L421.69,380.78L421.97,381.55L422.25,382.32L422.52,383.09L422.79,383.87L423.06,384.65L423.33,385.43L423.59,386.22L423.85,387.00L424.12,387.79L424.38,388.58L424.63,389.38L424.89,390.17L425.14,390.97L425.40,391.77L425.65,392.57L425.90,393.38L426.15,394.18L426.40,394.99L426.64,395.80L426.89,396.61L427.13,397.42L427.38,398.23L427.62,399.05L427.86,399.87L428.11,400.68L428.35,401.50L428.59,402.32L428.83,403.14L429.07,403.97L429.31,404.79L429.55,405.61L429.79,406.44L430.03,407.26L430.27,408.09L430.51,408.92L430.74,409.75L430.98,410.57L431.22,411.40L431.46,412.23L431.71,413.06L431.95,413.89L432.19,414.72L432.43,415.55L432.67,416.38L432.92,417.21L433.16,418.04L433.41,418.87L433.66,419.71L433.90,420.54L434.15,421.36L434.40,422.19L434.66,423.02L434.91,423.85L435.16,424.68L435.42,425.51L435.68,426.33L435.94,427.16L436.20,427.99L436.46,428.81L436.72,429.63L436.99,430.46L437.26,431.28L437.53,432.10L437.80,432.92L438.08,433.74L438.36,434.55L438.64,435.37L438.92,436.18L439.20,436.99L439.49,437.81L439.78,438.61L440.07,439.42L440.37,440.23L440.67,441.03L440.97,441.83L441.27,442.64L441.58,443.43L441.89,444.23L442.21,445.02L442.52,445.82L442.84,446.61L443.17,447.39L443.50,448.18L443.83,448.96L444.16,449.74L444.50,450.52L444.84,451.30L445.19,452.07L445.54,452.84L445.89,453.60L446.25,454.37L446.62,455.13L446.98,455.89L447.36,456.64L447.73,457.40L448.11,458.14L448.50,458.89L448.89,459.63L449.28,460.37L449.68,461.11L450.08,461.84L450.49,462.57L450.91,463.29L451.32,464.01L451.75,464.73L452.18,465.44L452.61,466.15L453.05,466.86L453.50,467.56L453.95,468.26L454.40,468.95L454.87,469.64L455.33,470.33L455.81,471.01L456.29,471.68L456.77,472.36L457.26,473.02L457.76,473.69L458.26,474.34L458.77,475.00L459.29,475.65L459.81,476.29L460.34,476.93L460.88,477.56L461.42,478.19L461.97,478.82L462.52,479.44L463.08,480.05L463.65,480.66L464.23,481.26L464.81,481.86L465.40,482.45L466.00,483.04L466.60,483.61L467.21,484.19L467.83,484.75L468.45,485.31L469.08,485.86L469.71,486.40L470.35,486.93L471.00,487.45L471.66,487.97L472.32,488.47L472.98,488.97L473.66,489.45L474.33,489.93L475.02,490.39L475.71,490.84L476.41,491.29L477.11,491.72L477.82,492.14L478.53,492.54L479.25,492.94L479.97,493.32L480.70,493.69L481.44,494.04L482.18,494.38L482.93,494.71L483.68,495.02L484.44,495.32L485.20,495.60L485.96,495.87L486.74,496.12L487.51,496.36L488.29,496.59L489.08,496.80L489.87,497.00L490.66,497.18L491.46,497.36L492.26,497.51L493.06,497.66L493.87,497.79L494.68,497.91L495.50,498.02L496.31,498.11L497.13,498.20L497.96,498.27L498.78,498.33L499.61,498.37L500.44,498.41L501.27,498.43L502.10,498.45L502.94,498.45L503.77,498.44L504.61,498.42L505.45,498.39L506.29,498.36L507.13,498.31L507.97,498.25L508.82,498.19L509.66,498.11L510.51,498.03L511.35,497.94L512.20,497.85L513.05,497.74L513.90,497.64L514.74,497.52L515.59,497.40L516.44,497.27L517.29,497.14L518.14,497.01L518.99,496.87L519.85,496.72L520.70,496.57L521.55,496.42L522.40,496.27L523.25,496.11L524.10,495.95L524.95,495.80L525.80,495.63L526.65,495.47L527.50,495.31L528.35,495.15L529.20,494.98L530.04,494.82L530.89,494.66L531.74,494.50L532.58,494.34L533.43,494.18L534.27,494.03L535.11,493.87L535.95,493.72L536.80,493.57L537.64,493.42L538.48,493.27L539.32,493.13L540.16,492.99L540.99,492.85L541.83,492.71L542.67,492.57L543.51,492.44L544.34,492.30L545.18,492.17L546.02,492.04L546.85,491.92L547.69,491.79L548.52,491.67L549.35,491.55L550.19,491.44L551.02,491.32L551.86,491.21L552.69,491.10L553.52,490.99L554.36,490.89L555.19,490.79L556.02,490.69L556.86,490.59L557.69,490.50L558.53,490.41L559.36,490.32L560.19,490.24L561.03,490.15L561.86,490.07L562.69,490.00L563.53,489.92L564.36,489.85L565.20,489.78L566.03,489.72L566.87,489.65L567.70,489.59L568.54,489.53L569.37,489.48L570.21,489.42L571.04,489.37L571.88,489.32L572.71,489.27L573.55,489.22L574.38,489.18L575.22,489.13L576.06,489.09L576.89,489.05L577.73,489.01L578.56,488.98L579.40,488.94L580.24,488.91L581.08,488.88L581.91,488.84L582.75,488.82L583.59,488.79L584.42,488.76L585.26,488.73L586.10,488.71L586.94,488.68L587.77,488.66L588.61,488.64L589.45,488.62L590.29,488.59L591.13,488.57L591.97,488.55L592.81,488.54L593.64,488.52L594.48,488.50L595.32,488.48L596.16,488.46L597.00,488.45L597.84,488.43L598.68,488.41L599.52,488.39L600.36,488.38L601.20,488.36L602.04,488.34L602.88,488.32L603.72,488.31L604.56,488.29L605.40,488.27L606.25,488.25L607.09,488.24L607.93,488.22L608.77,488.20L609.61,488.18L610.45,488.17L611.30,488.15L612.14,488.13L612.98,488.12L613.82,488.10L614.66,488.08L615.51,488.07L616.35,488.05L617.19,488.03L618.03,488.02L618.88,488.00L619.72,487.99L620.56,487.97L621.40,487.96L622.25,487.94L623.09,487.93L623.93,487.91L624.78,487.90L625.62,487.89L626.46,487.87L627.30,487.86L628.15,487.85L628.99,487.84L629.83,487.83L630.68,487.82L631.52,487.81L632.36,487.80L633.21,487.79L634.05,487.78L634.89,487.77L635.73,487.77L636.58,487.76L637.42,487.76L638.26,487.75L639.11,487.75L639.95,487.74L640.79,487.74L641.63,487.74L642.48,487.74L643.32,487.74L644.16,487.74L645.00,487.74L645.85,487.74L646.69,487.74L647.53,487.75L648.37,487.75L649.21,487.76L650.06,487.76L650.90,487.77L651.74,487.78L652.58,487.79L653.42,487.80L654.26,487.81L655.11,487.82L655.95,487.83L656.79,487.85L657.63,487.86L658.47,487.88L659.31,487.90L660.15,487.92L660.99,487.94L661.83,487.96L662.67,487.98L663.51,488.00L664.35,488.03L665.19,488.06L666.03,488.08L666.87,488.11L667.71,488.14L668.54,488.17L669.38,488.21L670.22,488.24L671.06,488.28L671.90,488.31" stroke="#000000" stroke-dasharray="2.2 2.44"/>
</g>
<rect x="61.30" y="7.30" width="255.00" height="129.70" fill="none" stroke="#2b2b2b" stroke-width="1.5"/>
<path d="M61.30,137.00v-2.6M61.30,7.30v2.6M132.10,137.00v-2.6M132.10,7.30v2.6M203.40,137.00v-2.6M203.40,7.30v2.6M274.90,137.00v-2.6M274.90,7.30v2.6M61.30,127.90h2.6M316.30,127.90h-2.6M61.30,93.20h2.6M316.30,93.20h-2.6M61.30,58.50h2.6M316.30,58.50h-2.6M61.30,23.80h2.6M316.30,23.80h-2.6" stroke="#2b2b2b" stroke-width="1.3" fill="none"/>
<text x="60.50" y="165.50" font-size="20.80" text-anchor="middle">0</text>
<text x="131.30" y="165.50" font-size="20.80" text-anchor="middle">100</text>
<text x="202.60" y="165.50" font-size="20.80" text-anchor="middle">200</text>
<text x="274.10" y="165.50" font-size="20.80" text-anchor="middle">300</text>
<text x="51.90" y="136.30" font-size="20.80" text-anchor="end">0</text>
<text x="51.90" y="101.60" font-size="20.80" text-anchor="end">20</text>
<text x="51.90" y="66.90" font-size="20.80" text-anchor="end">40</text>
<text x="51.90" y="32.20" font-size="20.80" text-anchor="end">60</text>
<rect x="417.20" y="7.30" width="254.70" height="129.70" fill="none" stroke="#2b2b2b" stroke-width="1.5"/>
<path d="M417.30,137.00v-2.6M417.30,7.30v2.6M487.70,137.00v-2.6M487.70,7.30v2.6M559.00,137.00v-2.6M559.00,7.30v2.6M630.30,137.00v-2.6M630.30,7.30v2.6M417.20,11.70h2.6M671.90,11.70h-2.6M417.20,74.40h2.6M671.90,74.40h-2.6M417.20,137.00h2.6M671.90,137.00h-2.6" stroke="#2b2b2b" stroke-width="1.3" fill="none"/>
<text x="416.50" y="165.50" font-size="20.80" text-anchor="middle">0</text>
<text x="486.90" y="165.50" font-size="20.80" text-anchor="middle">100</text>
<text x="558.20" y="165.50" font-size="20.80" text-anchor="middle">200</text>
<text x="629.50" y="165.50" font-size="20.80" text-anchor="middle">300</text>
<text x="408.10" y="20.10" font-size="20.80" text-anchor="end">0</text>
<text x="408.10" y="82.80" font-size="20.80" text-anchor="end">-1</text>
<text x="408.10" y="145.40" font-size="20.80" text-anchor="end">-2</text>
<rect x="61.30" y="189.00" width="255.00" height="128.60" fill="none" stroke="#2b2b2b" stroke-width="1.5"/>
<path d="M61.30,317.60v-2.6M61.30,189.00v2.6M132.10,317.60v-2.6M132.10,189.00v2.6M203.40,317.60v-2.6M203.40,189.00v2.6M274.90,317.60v-2.6M274.90,189.00v2.6M61.30,306.40h2.6M316.30,306.40h-2.6M61.30,267.20h2.6M316.30,267.20h-2.6M61.30,228.00h2.6M316.30,228.00h-2.6M61.30,189.00h2.6M316.30,189.00h-2.6" stroke="#2b2b2b" stroke-width="1.3" fill="none"/>
<text x="60.50" y="346.10" font-size="20.80" text-anchor="middle">0</text>
<text x="131.30" y="346.10" font-size="20.80" text-anchor="middle">100</text>
<text x="202.60" y="346.10" font-size="20.80" text-anchor="middle">200</text>
<text x="274.10" y="346.10" font-size="20.80" text-anchor="middle">300</text>
<text x="51.90" y="314.80" font-size="20.80" text-anchor="end">0</text>
<text x="51.90" y="275.60" font-size="20.80" text-anchor="end">10</text>
<text x="51.90" y="236.40" font-size="20.80" text-anchor="end">20</text>
<text x="51.90" y="197.40" font-size="20.80" text-anchor="end">30</text>
<rect x="417.20" y="189.00" width="254.70" height="128.60" fill="none" stroke="#2b2b2b" stroke-width="1.5"/>
<path d="M417.30,317.60v-2.6M417.30,189.00v2.6M487.70,317.60v-2.6M487.70,189.00v2.6M559.00,317.60v-2.6M559.00,189.00v2.6M630.30,317.60v-2.6M630.30,189.00v2.6M417.20,195.90h2.6M671.90,195.90h-2.6M417.20,256.70h2.6M671.90,256.70h-2.6M417.20,317.60h2.6M671.90,317.60h-2.6" stroke="#2b2b2b" stroke-width="1.3" fill="none"/>
<text x="416.50" y="346.10" font-size="20.80" text-anchor="middle">0</text>
<text x="486.90" y="346.10" font-size="20.80" text-anchor="middle">100</text>
<text x="558.20" y="346.10" font-size="20.80" text-anchor="middle">200</text>
<text x="629.50" y="346.10" font-size="20.80" text-anchor="middle">300</text>
<text x="408.10" y="204.30" font-size="20.80" text-anchor="end">0</text>
<text x="408.10" y="265.10" font-size="20.80" text-anchor="end">-0.5</text>
<text x="408.10" y="326.00" font-size="20.80" text-anchor="end">-1</text>
<rect x="61.30" y="369.50" width="255.00" height="128.70" fill="none" stroke="#2b2b2b" stroke-width="1.5"/>
<path d="M61.30,498.20v-2.6M61.30,369.50v2.6M132.10,498.20v-2.6M132.10,369.50v2.6M203.40,498.20v-2.6M203.40,369.50v2.6M274.90,498.20v-2.6M274.90,369.50v2.6M61.30,383.30h2.6M316.30,383.30h-2.6M61.30,416.20h2.6M316.30,416.20h-2.6M61.30,449.20h2.6M316.30,449.20h-2.6M61.30,482.20h2.6M316.30,482.20h-2.6" stroke="#2b2b2b" stroke-width="1.3" fill="none"/>
<text x="60.50" y="526.70" font-size="20.80" text-anchor="middle">0</text>
<text x="131.30" y="526.70" font-size="20.80" text-anchor="middle">100</text>
<text x="202.60" y="526.70" font-size="20.80" text-anchor="middle">200</text>
<text x="274.10" y="526.70" font-size="20.80" text-anchor="middle">300</text>
<text x="51.90" y="391.70" font-size="20.80" text-anchor="end">2</text>
<text x="51.90" y="424.60" font-size="20.80" text-anchor="end">0</text>
<text x="51.90" y="457.60" font-size="20.80" text-anchor="end">-2</text>
<text x="51.90" y="490.60" font-size="20.80" text-anchor="end">-4</text>
<rect x="417.20" y="369.50" width="254.70" height="128.70" fill="none" stroke="#2b2b2b" stroke-width="1.5"/>
<path d="M417.30,498.20v-2.6M417.30,369.50v2.6M487.70,498.20v-2.6M487.70,369.50v2.6M559.00,498.20v-2.6M559.00,369.50v2.6M630.30,498.20v-2.6M630.30,369.50v2.6M417.20,392.30h2.6M671.90,392.30h-2.6M417.20,439.60h2.6M671.90,439.60h-2.6M417.20,486.90h2.6M671.90,486.90h-2.6" stroke="#2b2b2b" stroke-width="1.3" fill="none"/>
<text x="416.50" y="526.70" font-size="20.80" text-anchor="middle">0</text>
<text x="486.90" y="526.70" font-size="20.80" text-anchor="middle">100</text>
<text x="558.20" y="526.70" font-size="20.80" text-anchor="middle">200</text>
<text x="629.50" y="526.70" font-size="20.80" text-anchor="middle">300</text>
<text x="408.10" y="400.70" font-size="20.80" text-anchor="end">0.2</text>
<text x="408.10" y="448.00" font-size="20.80" text-anchor="end">0.1</text>
<text x="408.10" y="495.30" font-size="20.80" text-anchor="end">0</text>
<text x="184.45" y="182.40" font-size="23.00" text-anchor="middle">time (s)</text>
<text x="542.60" y="182.40" font-size="23.00" text-anchor="middle">time (s)</text>
<text x="189.00" y="362.30" font-size="23.00" text-anchor="middle">time (s)</text>
<text x="542.70" y="362.30" font-size="23.00" text-anchor="middle">time (s)</text>
<text x="188.90" y="555.60" font-size="23.00" text-anchor="middle">time (s)</text>
<text x="544.40" y="555.70" font-size="23.00" text-anchor="middle">time (s)</text>
<text transform="translate(22.20,73.00) rotate(-90)" font-size="23.00" text-anchor="middle">x (m)</text>
<text transform="translate(21.90,253.20) rotate(-90)" font-size="23.00" text-anchor="middle">y (m)</text>
<text transform="translate(25.30,434.10) rotate(-90)" font-size="23.00" text-anchor="middle">z (m)</text>
<text transform="translate(368.30,72.60) rotate(-90)" font-size="23.00" text-anchor="middle">v<tspan dy="11.80" dx="1.1" font-size="17.60">x</tspan><tspan dy="-11.80" dx="1.5"> (m/s)</tspan></text>
<text transform="translate(353.10,252.90) rotate(-90)" font-size="23.00" text-anchor="middle">v<tspan dy="11.60" dx="1.1" font-size="17.60">y</tspan><tspan dy="-11.60" dx="1.5"> (m/s)</tspan></text>
<text transform="translate(360.20,433.90) rotate(-90)" font-size="23.00" text-anchor="middle">v<tspan dy="12.10" dx="1.1" font-size="17.60">z</tspan><tspan dy="-12.10" dx="1.5"> (m/s)</tspan></text>
<rect x="110.30" y="7.60" width="205.70" height="75.10" fill="#fff" stroke="#2b2b2b" stroke-width="1.3"/>
<path d="M116.3,22.00H173.4" stroke="#0000ff" stroke-width="2.80" fill="none"/>
<text x="177.6" y="28.20" font-size="18.80">LQG</text>
<path d="M116.3,46.20H173.4" stroke="#ff0000" stroke-width="2.80" stroke-dasharray="9 3.1 3.6 3.1" fill="none"/>
<text x="177.6" y="52.10" font-size="18.80">LQR-MSIF</text>
<path d="M116.3,69.50H173.4" stroke="#000000" stroke-width="2.80" stroke-dasharray="2.2 2.44" fill="none"/>
<text x="177.6" y="76.20" font-size="18.80">SNN-LQR-MSIF</text>
<text x="114.4" y="109.9" font-size="29">A = 0.9A</text>
</svg>
</body></html>
